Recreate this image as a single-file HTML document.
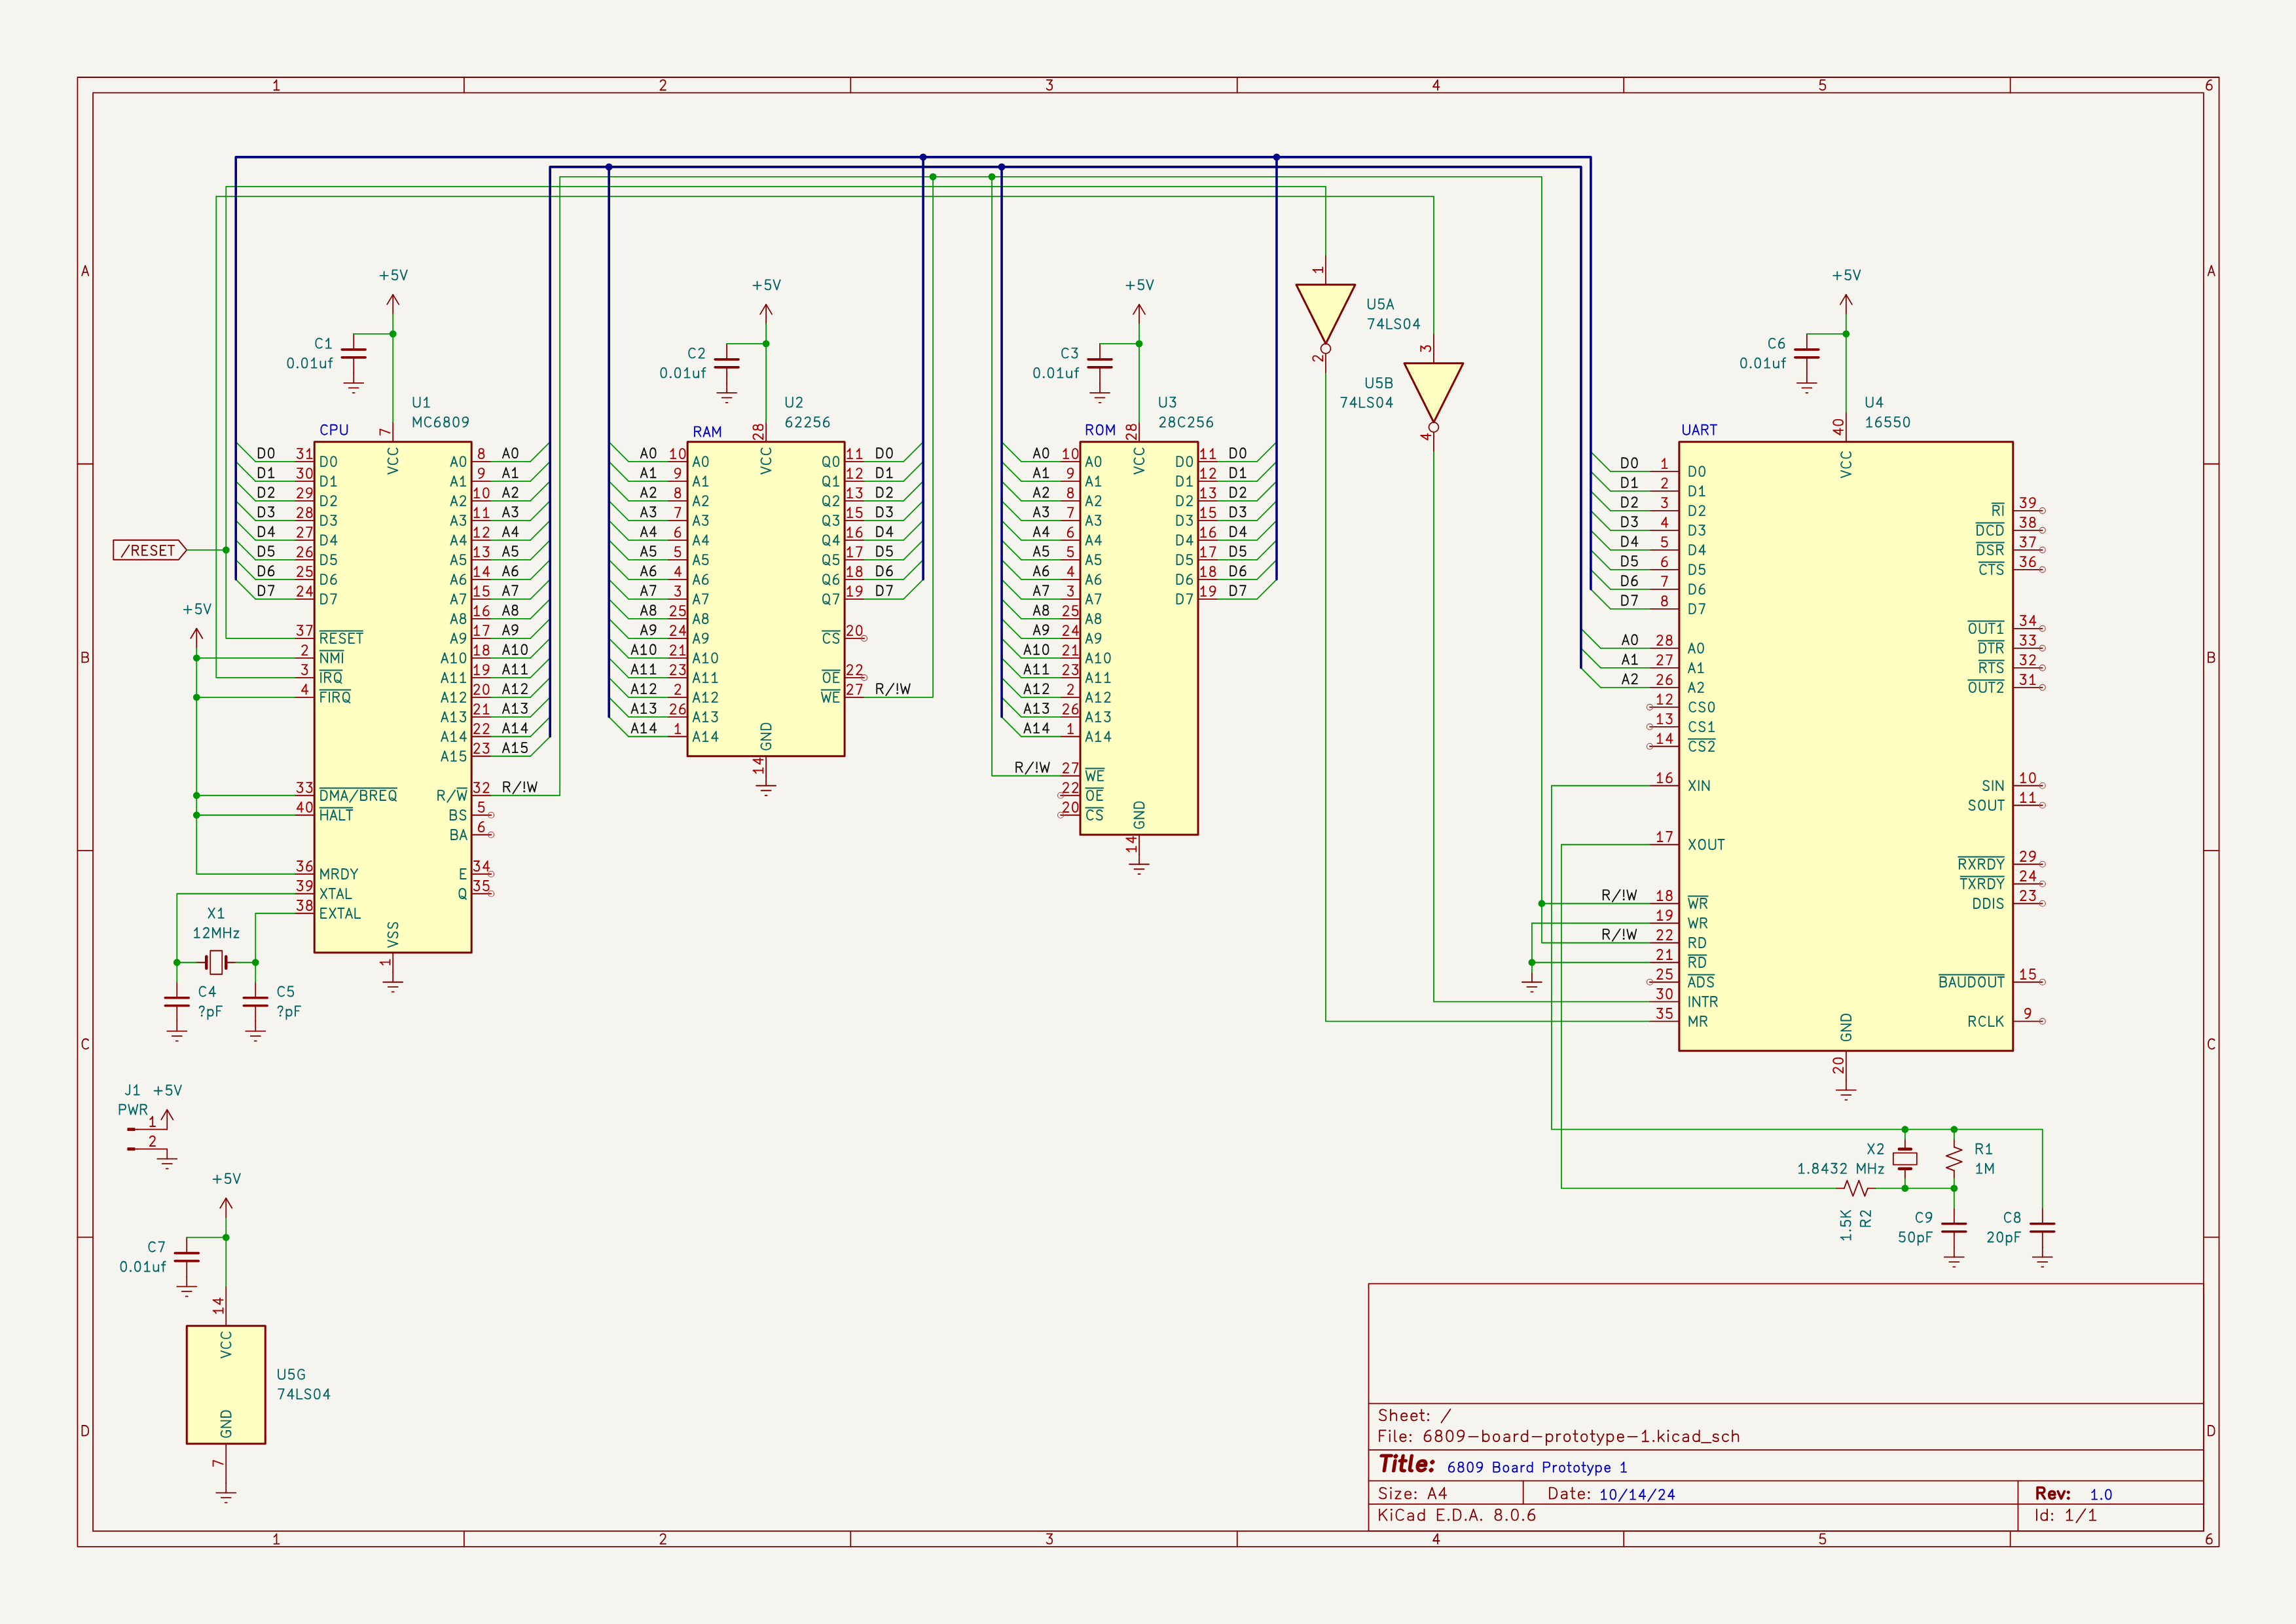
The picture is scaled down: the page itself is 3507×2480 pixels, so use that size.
<!DOCTYPE html><html><head><meta charset="utf-8"><title>6809 Board Prototype 1</title><style>html,body{margin:0;padding:0;background:#f5f4ef;font-family:"Liberation Sans",sans-serif}svg{display:block}</style></head><body><svg width="3507" height="2480" viewBox="0 0 3507 2480">
<defs><path id="g48" d="M10 0C6.3 0 4 3.8 4 10.5C4 17.2 6.3 21 10 21C13.7 21 16 17.2 16 10.5C16 3.8 13.7 0 10 0Z"/><path id="g49" d="M5 6.2Q8.3 4.6 10.5 0L10.5 21M5 21L16 21"/><path id="g50" d="M4.5 3.6Q6.2 0 10 0Q15.5 0 15.5 5Q15.5 7.8 13 10.8L4.3 21L16 21"/><path id="g51" d="M4.3 0L15.6 0L9.3 8.2C13.2 8.2 15.8 10.4 15.8 14.5C15.8 18.6 13.3 21 9.6 21C7 21 5.2 20 4 18"/><path id="g52" d="M13.3 0L3.8 14.6L17 14.6M13.3 0L13.3 21"/><path id="g53" d="M15 0L5.5 0L4.5 9.6Q6.8 8.2 9.8 8.2C13.6 8.2 16 10.6 16 14.5C16 18.5 13.5 21 9.8 21C7.2 21 5.3 20 4 18.2"/><path id="g54" d="M14.6 0C11 0 8 2 6 6C4.6 8.8 4 11.5 4 14.6C4 18.5 6.4 21 10 21C13.6 21 16 18.5 16 14.8C16 11.2 13.7 8.8 10.2 8.8C7.2 8.8 4.8 10.8 4 14"/><path id="g55" d="M4 0L16 0L8.3 21"/><path id="g56" d="M10 0C6.8 0 5 2 5 4.8C5 7.6 6.8 9.6 10 9.6C13.2 9.6 15 7.6 15 4.8C15 2 13.2 0 10 0ZM10 9.6C6.4 9.6 4 11.8 4 15.3C4 18.8 6.4 21 10 21C13.6 21 16 18.8 16 15.3C16 11.8 13.6 9.6 10 9.6Z"/><path id="g57" d="M5.4 21C9 21 12 19 14 15C15.4 12.2 16 9.5 16 6.4C16 2.5 13.6 0 10 0C6.4 0 4 2.5 4 6.2C4 9.8 6.3 12.2 9.8 12.2C12.8 12.2 15.2 10.2 16 7"/><path id="g65" d="M2 21L9 0L16 21M4.4 14.2L13.6 14.2"/><path id="g66" d="M4 0L4 21M4 0L11 0C14.5 0 16.5 1.8 16.5 5C16.5 8.2 14.5 10 11 10L4 10M11 10C15 10 17.3 12 17.3 15.5C17.3 19 15 21 11 21L4 21"/><path id="g67" d="M17.3 18.2C15.8 20 13.8 21 11.3 21C7 21 4 17 4 10.5C4 4 7 0 11.3 0C13.8 0 15.8 1 17.3 2.8"/><path id="g68" d="M4 0L4 21L9 21C14.3 21 17.3 17.2 17.3 10.5C17.3 3.8 14.3 0 9 0Z"/><path id="g69" d="M15.6 0L4 0L4 21L15.6 21M4 10L11.8 10"/><path id="g70" d="M15.2 0L4 0L4 21M4 10L11.6 10"/><path id="g71" d="M17.3 2.8C15.8 1 13.8 0 11.3 0C7 0 4 4 4 10.5C4 17 7 21 11.3 21C13.8 21 16 20 17.5 18.4L17.5 11.2L12.5 11.2"/><path id="g72" d="M4 0L4 21M18 0L18 21M4 10L18 10"/><path id="g73" d="M4 0L4 21"/><path id="g74" d="M11.5 0L11.5 15.5C11.5 19 9.8 21 7 21C5 21 3.6 20 2.8 18.4"/><path id="g75" d="M4 0L4 21M16.8 0L4 12.8M8.6 8.2L17.3 21"/><path id="g76" d="M4 0L4 21L15.2 21"/><path id="g77" d="M4 21L4 0L12 15L20 0L20 21"/><path id="g78" d="M4 21L4 0L18 21L18 0"/><path id="g79" d="M11 0C6.6 0 4 4 4 10.5C4 17 6.6 21 11 21C15.4 21 18 17 18 10.5C18 4 15.4 0 11 0Z"/><path id="g80" d="M4 21L4 0L11.3 0C15 0 17.2 2 17.2 5.5C17.2 9 15 11 11.3 11L4 11"/><path id="g81" d="M11 0C6.6 0 4 4 4 10.5C4 17 6.6 21 11 21C15.4 21 18 17 18 10.5C18 4 15.4 0 11 0ZM8.6 16.2C12.4 15.4 14.8 19.6 19 22.6"/><path id="g82" d="M4 21L4 0L11 0C14.6 0 16.8 1.8 16.8 5C16.8 8.2 14.6 10 11 10L4 10M10.6 10L17.3 21"/><path id="g83" d="M16 2.8C14.5 1 12.5 0 10 0C6.6 0 4.4 2 4.4 5C4.4 8 6.5 9.2 10 10.3C13.8 11.4 16 12.8 16 16C16 19 13.6 21 10 21C7.3 21 5.2 20 3.6 18.2"/><path id="g84" d="M8 0L8 21M1.4 0L14.6 0"/><path id="g85" d="M4 0L4 14.5C4 18.6 6.6 21 11 21C15.4 21 18 18.6 18 14.5L18 0"/><path id="g86" d="M1.8 0L9 21L16.2 0"/><path id="g87" d="M2.2 0L7 21L12 6L17 21L21.8 0"/><path id="g88" d="M3.6 0L16.4 21M16.4 0L3.6 21"/><path id="g89" d="M1.8 0L9 11L16.2 0M9 11L9 21"/><path id="g90" d="M4 0L16 0L4 21L16 21"/><path id="g97" d="M4.8 9C6 7.7 7.6 7 9.7 7C12.6 7 14.2 8.6 14.2 11.4L14.2 21M14.2 13.4L9.2 13.4C6 13.4 4.2 14.8 4.2 17.2C4.2 19.6 6 21 8.8 21C11.2 21 13 20 14.2 18.2"/><path id="g98" d="M4 0L4 21M4 10.4C5.4 8.2 7.4 7 9.8 7C13.2 7 15.4 9.6 15.4 14C15.4 18.4 13.2 21 9.8 21C7.4 21 5.4 19.8 4 17.6"/><path id="g99" d="M14.6 18.6C13.4 20.2 11.8 21 9.8 21C6.2 21 4 18.4 4 14C4 9.6 6.2 7 9.8 7C11.8 7 13.4 7.8 14.6 9.4"/><path id="g100" d="M15 0L15 21M15 10.4C13.6 8.2 11.6 7 9.2 7C5.8 7 3.6 9.6 3.6 14C3.6 18.4 5.8 21 9.2 21C11.6 21 13.6 19.8 15 17.6"/><path id="g101" d="M4 13.6L14.8 13.6C14.8 9.4 13 7 9.6 7C6.2 7 4 9.6 4 14C4 18.4 6.2 21 9.8 21C11.8 21 13.4 20.2 14.6 18.6"/><path id="g102" d="M10.6 0L9.6 0C7 0 5.8 1.4 5.8 4.2L5.8 21M2.2 7L10 7"/><path id="g104" d="M4 0L4 21M4 11C5.6 8.4 7.6 7 10 7C13.2 7 14.8 8.8 14.8 12.2L14.8 21"/><path id="g105" d="M4.5 7L4.5 21M4.5 0L3.7 0.8L4.5 1.6L5.3 0.8Z"/><path id="g107" d="M4 0L4 21M13.6 7L4 16.2M7.8 12.6L14.4 21"/><path id="g108" d="M4.4 0L4.4 17.5C4.4 20 5.4 21 7.4 21"/><path id="g111" d="M9.5 7C6 7 4 9.6 4 14C4 18.4 6 21 9.5 21C13 21 15 18.4 15 14C15 9.6 13 7 9.5 7Z"/><path id="g112" d="M4 7L4 28M4 10.4C5.4 8.2 7.4 7 9.8 7C13.2 7 15.4 9.6 15.4 14C15.4 18.4 13.2 21 9.8 21C7.4 21 5.4 19.8 4 17.6"/><path id="g114" d="M4 7L4 21M4 11.6C5.2 8.6 7.4 7 10.8 7"/><path id="g115" d="M13.4 9C12.2 7.7 10.6 7 8.6 7C5.8 7 4.2 8.3 4.2 10.4C4.2 12.4 5.6 13.4 8.6 13.9C11.8 14.4 13.6 15.4 13.6 17.5C13.6 19.7 11.8 21 8.8 21C6.6 21 4.8 20.2 3.6 18.8"/><path id="g116" d="M5 0L5 17.4C5 19.8 6.2 21 8.6 21L9.8 21M1.8 7L9.6 7"/><path id="g117" d="M4 7L4 15.8C4 19.2 5.6 21 8.8 21C11.2 21 13.2 19.6 14.8 17M14.8 7L14.8 21"/><path id="g118" d="M2 7L8 21L14 7"/><path id="g121" d="M2 7L8 21M14 7L8 21C6.6 25 5 27.4 2.4 28"/><path id="g122" d="M3.6 7L13.4 7L3.6 21L13.4 21"/><path id="g43" d="M13 3.6L13 20.4M4.6 12L21.4 12"/><path id="g45" d="M4.6 12L21.4 12"/><path id="g46" d="M5 19.2L4.1 20.1L5 21L5.9 20.1Z"/><path id="g58" d="M5 19.2L4.1 20.1L5 21L5.9 20.1ZM5 8L4.1 8.9L5 9.8L5.9 8.9Z"/><path id="g47" d="M19.3 -0.5L2.7 25"/><path id="g33" d="M5 0L5 14M5 19.2L4.1 20.1L5 21L5.9 20.1Z"/><path id="g63" d="M4 4C4.6 1.4 6.4 0 9 0C12 0 14 1.8 14 4.6C14 7 12.8 8.2 11 9.8C9.6 11 9 12.2 9 14.4M9 19.2L8.1 20.1L9 21L9.9 20.1Z"/><path id="g95" d="M0 23.4L17 23.4"/></defs>
<rect width="3507" height="2480" fill="#f5f4ef"/>
<g fill="none" stroke-linecap="round" stroke-linejoin="round" transform="matrix(0.99983 0 0 0.99987 0.32 -0.08)">
<g><path d="M118.11 118.11L3389.76 118.11L3389.76 2362.2L118.11 2362.2Z" stroke="#840000" stroke-width="1.8" fill="none"/>
<path d="M141.73 141.73L3366.13 141.73L3366.13 2338.58L141.73 2338.58Z" stroke="#840000" stroke-width="1.8" fill="none"/>
<path d="M708.66 118.11L708.66 141.73" stroke="#840000" stroke-width="1.8" fill="none"/>
<path d="M708.66 2338.58L708.66 2362.2" stroke="#840000" stroke-width="1.8" fill="none"/>
<path d="M1299.21 118.11L1299.21 141.73" stroke="#840000" stroke-width="1.8" fill="none"/>
<path d="M1299.21 2338.58L1299.21 2362.2" stroke="#840000" stroke-width="1.8" fill="none"/>
<path d="M1889.76 118.11L1889.76 141.73" stroke="#840000" stroke-width="1.8" fill="none"/>
<path d="M1889.76 2338.58L1889.76 2362.2" stroke="#840000" stroke-width="1.8" fill="none"/>
<path d="M2480.31 118.11L2480.31 141.73" stroke="#840000" stroke-width="1.8" fill="none"/>
<path d="M2480.31 2338.58L2480.31 2362.2" stroke="#840000" stroke-width="1.8" fill="none"/>
<path d="M3070.86 118.11L3070.86 141.73" stroke="#840000" stroke-width="1.8" fill="none"/>
<path d="M3070.86 2338.58L3070.86 2362.2" stroke="#840000" stroke-width="1.8" fill="none"/>
<path d="M118.11 708.66L141.73 708.66" stroke="#840000" stroke-width="1.8" fill="none"/>
<path d="M3366.13 708.66L3389.76 708.66" stroke="#840000" stroke-width="1.8" fill="none"/>
<path d="M118.11 1299.21L141.73 1299.21" stroke="#840000" stroke-width="1.8" fill="none"/>
<path d="M3366.13 1299.21L3389.76 1299.21" stroke="#840000" stroke-width="1.8" fill="none"/>
<path d="M118.11 1889.76L141.73 1889.76" stroke="#840000" stroke-width="1.8" fill="none"/>
<path d="M3366.13 1889.76L3389.76 1889.76" stroke="#840000" stroke-width="1.8" fill="none"/>
<g transform="translate(414.58 129.92) scale(0.7312) translate(0 -10.5)" stroke="#840000" stroke-width="2.4619"><use href="#g49" x="0"/></g>
<g transform="translate(414.58 2350.39) scale(0.7312) translate(0 -10.5)" stroke="#840000" stroke-width="2.4619"><use href="#g49" x="0"/></g>
<g transform="translate(1005.13 129.92) scale(0.7312) translate(0 -10.5)" stroke="#840000" stroke-width="2.4619"><use href="#g50" x="0"/></g>
<g transform="translate(1005.13 2350.39) scale(0.7312) translate(0 -10.5)" stroke="#840000" stroke-width="2.4619"><use href="#g50" x="0"/></g>
<g transform="translate(1595.68 129.92) scale(0.7312) translate(0 -10.5)" stroke="#840000" stroke-width="2.4619"><use href="#g51" x="0"/></g>
<g transform="translate(1595.68 2350.39) scale(0.7312) translate(0 -10.5)" stroke="#840000" stroke-width="2.4619"><use href="#g51" x="0"/></g>
<g transform="translate(2186.23 129.92) scale(0.7312) translate(0 -10.5)" stroke="#840000" stroke-width="2.4619"><use href="#g52" x="0"/></g>
<g transform="translate(2186.23 2350.39) scale(0.7312) translate(0 -10.5)" stroke="#840000" stroke-width="2.4619"><use href="#g52" x="0"/></g>
<g transform="translate(2776.78 129.92) scale(0.7312) translate(0 -10.5)" stroke="#840000" stroke-width="2.4619"><use href="#g53" x="0"/></g>
<g transform="translate(2776.78 2350.39) scale(0.7312) translate(0 -10.5)" stroke="#840000" stroke-width="2.4619"><use href="#g53" x="0"/></g>
<g transform="translate(3367.33 129.92) scale(0.7312) translate(0 -10.5)" stroke="#840000" stroke-width="2.4619"><use href="#g54" x="0"/></g>
<g transform="translate(3367.33 2350.39) scale(0.7312) translate(0 -10.5)" stroke="#840000" stroke-width="2.4619"><use href="#g54" x="0"/></g>
<g transform="translate(129.92 413.38) scale(0.7312) translate(0 -10.5)" stroke="#840000" stroke-width="2.4619"><use href="#g65" x="-9"/></g>
<g transform="translate(3377.95 413.38) scale(0.7312) translate(0 -10.5)" stroke="#840000" stroke-width="2.4619"><use href="#g65" x="-9"/></g>
<g transform="translate(129.92 1003.93) scale(0.7312) translate(0 -10.5)" stroke="#840000" stroke-width="2.4619"><use href="#g66" x="-10.5"/></g>
<g transform="translate(3377.95 1003.93) scale(0.7312) translate(0 -10.5)" stroke="#840000" stroke-width="2.4619"><use href="#g66" x="-10.5"/></g>
<g transform="translate(129.92 1594.48) scale(0.7312) translate(0 -10.5)" stroke="#840000" stroke-width="2.4619"><use href="#g67" x="-10.5"/></g>
<g transform="translate(3377.95 1594.48) scale(0.7312) translate(0 -10.5)" stroke="#840000" stroke-width="2.4619"><use href="#g67" x="-10.5"/></g>
<g transform="translate(129.92 2185.03) scale(0.7312) translate(0 -10.5)" stroke="#840000" stroke-width="2.4619"><use href="#g68" x="-10.5"/></g>
<g transform="translate(3377.95 2185.03) scale(0.7312) translate(0 -10.5)" stroke="#840000" stroke-width="2.4619"><use href="#g68" x="-10.5"/></g>
<path d="M2090.55 1960.63L3366.13 1960.63L3366.13 2338.58L2090.55 2338.58Z" stroke="#840000" stroke-width="1.8" fill="none"/>
<path d="M2090.55 2297.24L3366.13 2297.24" stroke="#840000" stroke-width="1.8" fill="none"/>
<path d="M2090.55 2261.81L3366.13 2261.81" stroke="#840000" stroke-width="1.8" fill="none"/>
<path d="M2090.55 2214.56L3366.13 2214.56" stroke="#840000" stroke-width="1.8" fill="none"/>
<path d="M2090.55 2143.7L3366.13 2143.7" stroke="#840000" stroke-width="1.8" fill="none"/>
<path d="M2326.77 2261.81L2326.77 2297.24" stroke="#840000" stroke-width="1.8" fill="none"/>
<path d="M3082.67 2261.81L3082.67 2338.58" stroke="#840000" stroke-width="1.8" fill="none"/>
<g transform="translate(2103.86 2161.21) scale(0.8437 0.8099) translate(0 -10.5)" stroke="#840000" stroke-width="2.2225"><use href="#g83" x="0"/><use href="#g104" x="20"/><use href="#g101" x="39"/><use href="#g101" x="57"/><use href="#g116" x="75"/><use href="#g58" x="87"/><use href="#g47" x="113"/></g>
<g transform="translate(2103.86 2193.1) scale(0.8437 0.8099) translate(0 -10.5)" stroke="#840000" stroke-width="2.2225"><use href="#g70" x="0"/><use href="#g105" x="18"/><use href="#g108" x="27"/><use href="#g101" x="37"/><use href="#g58" x="55"/><use href="#g54" x="81"/><use href="#g56" x="101"/><use href="#g48" x="121"/><use href="#g57" x="141"/><use href="#g45" x="161"/><use href="#g98" x="187"/><use href="#g111" x="206"/><use href="#g97" x="225"/><use href="#g114" x="244"/><use href="#g100" x="257"/><use href="#g45" x="276"/><use href="#g112" x="302"/><use href="#g114" x="321"/><use href="#g111" x="334"/><use href="#g116" x="353"/><use href="#g111" x="365"/><use href="#g116" x="384"/><use href="#g121" x="396"/><use href="#g112" x="412"/><use href="#g101" x="431"/><use href="#g45" x="449"/><use href="#g49" x="475"/><use href="#g46" x="495"/><use href="#g107" x="505"/><use href="#g105" x="522"/><use href="#g99" x="531"/><use href="#g97" x="549"/><use href="#g100" x="568"/><use href="#g95" x="587"/><use href="#g115" x="604"/><use href="#g99" x="621"/><use href="#g104" x="639"/></g>
<g transform="translate(2106.76 2234.82) scale(1.1566 1.0911) skewX(-8) translate(0 -10.5)" stroke="#840000" stroke-width="4.5825"><use href="#g84" x="0"/><use href="#g105" x="16"/><use href="#g116" x="25"/><use href="#g108" x="37"/><use href="#g101" x="47"/><use href="#g58" x="65"/></g>
<g transform="translate(2103.86 2280.5) scale(0.8437 0.8099) translate(0 -10.5)" stroke="#840000" stroke-width="2.2225"><use href="#g83" x="0"/><use href="#g105" x="20"/><use href="#g122" x="29"/><use href="#g101" x="46"/><use href="#g58" x="64"/><use href="#g65" x="90"/><use href="#g52" x="108"/></g>
<g transform="translate(2363.7 2280.5) scale(0.8437 0.8099) translate(0 -10.5)" stroke="#840000" stroke-width="2.2225"><use href="#g68" x="0"/><use href="#g97" x="21"/><use href="#g116" x="40"/><use href="#g101" x="52"/><use href="#g58" x="70"/></g>
<g transform="translate(2103.86 2313.57) scale(0.8437 0.8099) translate(0 -10.5)" stroke="#840000" stroke-width="2.2225"><use href="#g75" x="0"/><use href="#g105" x="21"/><use href="#g67" x="30"/><use href="#g97" x="51"/><use href="#g100" x="70"/><use href="#g69" x="105"/><use href="#g46" x="124"/><use href="#g68" x="134"/><use href="#g46" x="155"/><use href="#g65" x="165"/><use href="#g46" x="183"/><use href="#g56" x="209"/><use href="#g46" x="229"/><use href="#g48" x="239"/><use href="#g46" x="259"/><use href="#g54" x="269"/></g>
<g transform="translate(3108.89 2280.5) scale(0.8437 0.8099) translate(0 -10.5)" stroke="#840000" stroke-width="4.3215"><use href="#g82" x="0"/><use href="#g101" x="21"/><use href="#g118" x="39"/><use href="#g58" x="55"/></g>
<g transform="translate(3107.79 2313.57) scale(0.8437 0.8099) translate(0 -10.5)" stroke="#840000" stroke-width="2.2225"><use href="#g73" x="0"/><use href="#g100" x="8"/><use href="#g58" x="27"/><use href="#g49" x="53"/><use href="#g47" x="73"/><use href="#g49" x="95"/></g>
<g transform="translate(2210 2240.7) scale(0.7143) translate(0 -10.5)" stroke="#0000c2" stroke-width="2.625"><use href="#g54" x="0"/><use href="#g56" x="20"/><use href="#g48" x="40"/><use href="#g57" x="60"/><use href="#g66" x="96"/><use href="#g111" x="117"/><use href="#g97" x="136"/><use href="#g114" x="155"/><use href="#g100" x="168"/><use href="#g80" x="203"/><use href="#g114" x="224"/><use href="#g111" x="237"/><use href="#g116" x="256"/><use href="#g111" x="268"/><use href="#g116" x="287"/><use href="#g121" x="299"/><use href="#g112" x="315"/><use href="#g101" x="334"/><use href="#g49" x="368"/></g>
<g transform="translate(2442.5 2282.5) scale(0.7143) translate(0 -10.5)" stroke="#0000c2" stroke-width="2.625"><use href="#g49" x="0"/><use href="#g48" x="20"/><use href="#g47" x="40"/><use href="#g49" x="62"/><use href="#g52" x="82"/><use href="#g47" x="102"/><use href="#g50" x="124"/><use href="#g52" x="144"/></g>
<g transform="translate(3192 2282.5) scale(0.7143) translate(0 -10.5)" stroke="#0000c2" stroke-width="2.625"><use href="#g49" x="0"/><use href="#g46" x="20"/><use href="#g48" x="30"/></g></g>
<g><rect x="480" y="675" width="240" height="780" fill="#ffffc2" stroke="#840000" stroke-width="3" stroke-linejoin="round"/>
<rect x="1050" y="675" width="240" height="480" fill="#ffffc2" stroke="#840000" stroke-width="3" stroke-linejoin="round"/>
<rect x="1650" y="675" width="180" height="600" fill="#ffffc2" stroke="#840000" stroke-width="3" stroke-linejoin="round"/>
<path d="M1980 435L2070 435L2025 525Z" fill="#ffffc2" stroke="#840000" stroke-width="3"/>
<path d="M2145 555L2235 555L2190 645Z" fill="#ffffc2" stroke="#840000" stroke-width="3"/>
<rect x="2565" y="675" width="510" height="930" fill="#ffffc2" stroke="#840000" stroke-width="3" stroke-linejoin="round"/>
<rect x="285" y="2025" width="120" height="180" fill="#ffffc2" stroke="#840000" stroke-width="3" stroke-linejoin="round"/></g>
<g><path d="M285 840L272.4 825L173 825L173 855L272.4 855Z" stroke="#840000" stroke-width="1.9" fill="none"/>
<path d="M600 1485L600 1500" stroke="#840000" stroke-width="1.8" fill="none"/>
<path d="M585 1500L615 1500" stroke="#840000" stroke-width="1.8" fill="none"/>
<path d="M592.5 1507.5L607.5 1507.5" stroke="#840000" stroke-width="1.8" fill="none"/>
<path d="M598.5 1515L601.5 1515" stroke="#840000" stroke-width="1.8" fill="none"/>
<path d="M600 480L600 450" stroke="#840000" stroke-width="1.8" fill="none"/>
<path d="M591 465L600 450L609 465" stroke="#840000" stroke-width="1.8" fill="none"/>
<path d="M540 510L540 534" stroke="#840000" stroke-width="1.8" fill="none"/>
<path d="M540 546L540 570" stroke="#840000" stroke-width="1.8" fill="none"/>
<path d="M522 534L558 534" stroke="#840000" stroke-width="3.6" fill="none"/>
<path d="M522 546L558 546" stroke="#840000" stroke-width="3.6" fill="none"/>
<path d="M540 570L540 585" stroke="#840000" stroke-width="1.8" fill="none"/>
<path d="M525 585L555 585" stroke="#840000" stroke-width="1.8" fill="none"/>
<path d="M532.5 592.5L547.5 592.5" stroke="#840000" stroke-width="1.8" fill="none"/>
<path d="M538.5 600L541.5 600" stroke="#840000" stroke-width="1.8" fill="none"/>
<path d="M300 990L300 960" stroke="#840000" stroke-width="1.8" fill="none"/>
<path d="M291 975L300 960L309 975" stroke="#840000" stroke-width="1.8" fill="none"/>
<path d="M300 1470L315 1470" stroke="#840000" stroke-width="1.8" fill="none"/>
<path d="M360 1470L345 1470" stroke="#840000" stroke-width="1.8" fill="none"/>
<path d="M315 1461L315 1479" stroke="#840000" stroke-width="4.5" fill="none"/>
<path d="M345 1461L345 1479" stroke="#840000" stroke-width="4.5" fill="none"/>
<path d="M321 1452L339 1452L339 1488L321 1488Z" stroke="#840000" stroke-width="1.8" fill="none"/>
<path d="M270 1500L270 1524" stroke="#840000" stroke-width="1.8" fill="none"/>
<path d="M270 1536L270 1560" stroke="#840000" stroke-width="1.8" fill="none"/>
<path d="M252 1524L288 1524" stroke="#840000" stroke-width="3.6" fill="none"/>
<path d="M252 1536L288 1536" stroke="#840000" stroke-width="3.6" fill="none"/>
<path d="M270 1560L270 1575" stroke="#840000" stroke-width="1.8" fill="none"/>
<path d="M255 1575L285 1575" stroke="#840000" stroke-width="1.8" fill="none"/>
<path d="M262.5 1582.5L277.5 1582.5" stroke="#840000" stroke-width="1.8" fill="none"/>
<path d="M268.5 1590L271.5 1590" stroke="#840000" stroke-width="1.8" fill="none"/>
<path d="M390 1500L390 1524" stroke="#840000" stroke-width="1.8" fill="none"/>
<path d="M390 1536L390 1560" stroke="#840000" stroke-width="1.8" fill="none"/>
<path d="M372 1524L408 1524" stroke="#840000" stroke-width="3.6" fill="none"/>
<path d="M372 1536L408 1536" stroke="#840000" stroke-width="3.6" fill="none"/>
<path d="M390 1560L390 1575" stroke="#840000" stroke-width="1.8" fill="none"/>
<path d="M375 1575L405 1575" stroke="#840000" stroke-width="1.8" fill="none"/>
<path d="M382.5 1582.5L397.5 1582.5" stroke="#840000" stroke-width="1.8" fill="none"/>
<path d="M388.5 1590L391.5 1590" stroke="#840000" stroke-width="1.8" fill="none"/>
<path d="M1170 1185L1170 1200" stroke="#840000" stroke-width="1.8" fill="none"/>
<path d="M1155 1200L1185 1200" stroke="#840000" stroke-width="1.8" fill="none"/>
<path d="M1162.5 1207.5L1177.5 1207.5" stroke="#840000" stroke-width="1.8" fill="none"/>
<path d="M1168.5 1215L1171.5 1215" stroke="#840000" stroke-width="1.8" fill="none"/>
<path d="M1170 495L1170 465" stroke="#840000" stroke-width="1.8" fill="none"/>
<path d="M1161 480L1170 465L1179 480" stroke="#840000" stroke-width="1.8" fill="none"/>
<path d="M1110 525L1110 549" stroke="#840000" stroke-width="1.8" fill="none"/>
<path d="M1110 561L1110 585" stroke="#840000" stroke-width="1.8" fill="none"/>
<path d="M1092 549L1128 549" stroke="#840000" stroke-width="3.6" fill="none"/>
<path d="M1092 561L1128 561" stroke="#840000" stroke-width="3.6" fill="none"/>
<path d="M1110 585L1110 600" stroke="#840000" stroke-width="1.8" fill="none"/>
<path d="M1095 600L1125 600" stroke="#840000" stroke-width="1.8" fill="none"/>
<path d="M1102.5 607.5L1117.5 607.5" stroke="#840000" stroke-width="1.8" fill="none"/>
<path d="M1108.5 615L1111.5 615" stroke="#840000" stroke-width="1.8" fill="none"/>
<path d="M1740 1305L1740 1320" stroke="#840000" stroke-width="1.8" fill="none"/>
<path d="M1725 1320L1755 1320" stroke="#840000" stroke-width="1.8" fill="none"/>
<path d="M1732.5 1327.5L1747.5 1327.5" stroke="#840000" stroke-width="1.8" fill="none"/>
<path d="M1738.5 1335L1741.5 1335" stroke="#840000" stroke-width="1.8" fill="none"/>
<path d="M1740 495L1740 465" stroke="#840000" stroke-width="1.8" fill="none"/>
<path d="M1731 480L1740 465L1749 480" stroke="#840000" stroke-width="1.8" fill="none"/>
<path d="M1680 525L1680 549" stroke="#840000" stroke-width="1.8" fill="none"/>
<path d="M1680 561L1680 585" stroke="#840000" stroke-width="1.8" fill="none"/>
<path d="M1662 549L1698 549" stroke="#840000" stroke-width="3.6" fill="none"/>
<path d="M1662 561L1698 561" stroke="#840000" stroke-width="3.6" fill="none"/>
<path d="M1680 585L1680 600" stroke="#840000" stroke-width="1.8" fill="none"/>
<path d="M1665 600L1695 600" stroke="#840000" stroke-width="1.8" fill="none"/>
<path d="M1672.5 607.5L1687.5 607.5" stroke="#840000" stroke-width="1.8" fill="none"/>
<path d="M1678.5 615L1681.5 615" stroke="#840000" stroke-width="1.8" fill="none"/>
<path d="M2820 1650L2820 1665" stroke="#840000" stroke-width="1.8" fill="none"/>
<path d="M2805 1665L2835 1665" stroke="#840000" stroke-width="1.8" fill="none"/>
<path d="M2812.5 1672.5L2827.5 1672.5" stroke="#840000" stroke-width="1.8" fill="none"/>
<path d="M2818.5 1680L2821.5 1680" stroke="#840000" stroke-width="1.8" fill="none"/>
<path d="M2820 480L2820 450" stroke="#840000" stroke-width="1.8" fill="none"/>
<path d="M2811 465L2820 450L2829 465" stroke="#840000" stroke-width="1.8" fill="none"/>
<path d="M2760 510L2760 534" stroke="#840000" stroke-width="1.8" fill="none"/>
<path d="M2760 546L2760 570" stroke="#840000" stroke-width="1.8" fill="none"/>
<path d="M2742 534L2778 534" stroke="#840000" stroke-width="3.6" fill="none"/>
<path d="M2742 546L2778 546" stroke="#840000" stroke-width="3.6" fill="none"/>
<path d="M2760 570L2760 585" stroke="#840000" stroke-width="1.8" fill="none"/>
<path d="M2745 585L2775 585" stroke="#840000" stroke-width="1.8" fill="none"/>
<path d="M2752.5 592.5L2767.5 592.5" stroke="#840000" stroke-width="1.8" fill="none"/>
<path d="M2758.5 600L2761.5 600" stroke="#840000" stroke-width="1.8" fill="none"/>
<path d="M2340 1485L2340 1500" stroke="#840000" stroke-width="1.8" fill="none"/>
<path d="M2325 1500L2355 1500" stroke="#840000" stroke-width="1.8" fill="none"/>
<path d="M2332.5 1507.5L2347.5 1507.5" stroke="#840000" stroke-width="1.8" fill="none"/>
<path d="M2338.5 1515L2341.5 1515" stroke="#840000" stroke-width="1.8" fill="none"/>
<path d="M2910 1740L2910 1755" stroke="#840000" stroke-width="1.8" fill="none"/>
<path d="M2910 1800L2910 1785" stroke="#840000" stroke-width="1.8" fill="none"/>
<path d="M2901 1755L2919 1755" stroke="#840000" stroke-width="4.5" fill="none"/>
<path d="M2901 1785L2919 1785" stroke="#840000" stroke-width="4.5" fill="none"/>
<path d="M2892 1761L2928 1761L2928 1779L2892 1779Z" stroke="#840000" stroke-width="1.8" fill="none"/>
<path d="M2985 1740L2985 1752" stroke="#840000" stroke-width="1.8" fill="none"/>
<path d="M2985 1800L2985 1788" stroke="#840000" stroke-width="1.8" fill="none"/>
<path d="M2985 1752L2997 1756.5L2985 1761L2973 1765.5L2985 1770L2997 1774.5L2985 1779L2973 1783.5L2985 1788" stroke="#840000" stroke-width="1.8" fill="none"/>
<path d="M2805 1815L2817 1815" stroke="#840000" stroke-width="1.8" fill="none"/>
<path d="M2865 1815L2853 1815" stroke="#840000" stroke-width="1.8" fill="none"/>
<path d="M2817 1815L2821.5 1803L2826 1815L2830.5 1827L2835 1815L2839.5 1803L2844 1815L2848.5 1827L2853 1815" stroke="#840000" stroke-width="1.8" fill="none"/>
<path d="M2985 1845L2985 1869" stroke="#840000" stroke-width="1.8" fill="none"/>
<path d="M2985 1881L2985 1905" stroke="#840000" stroke-width="1.8" fill="none"/>
<path d="M2967 1869L3003 1869" stroke="#840000" stroke-width="3.6" fill="none"/>
<path d="M2967 1881L3003 1881" stroke="#840000" stroke-width="3.6" fill="none"/>
<path d="M2985 1905L2985 1920" stroke="#840000" stroke-width="1.8" fill="none"/>
<path d="M2970 1920L3000 1920" stroke="#840000" stroke-width="1.8" fill="none"/>
<path d="M2977.5 1927.5L2992.5 1927.5" stroke="#840000" stroke-width="1.8" fill="none"/>
<path d="M2983.5 1935L2986.5 1935" stroke="#840000" stroke-width="1.8" fill="none"/>
<path d="M3120 1845L3120 1869" stroke="#840000" stroke-width="1.8" fill="none"/>
<path d="M3120 1881L3120 1905" stroke="#840000" stroke-width="1.8" fill="none"/>
<path d="M3102 1869L3138 1869" stroke="#840000" stroke-width="3.6" fill="none"/>
<path d="M3102 1881L3138 1881" stroke="#840000" stroke-width="3.6" fill="none"/>
<path d="M3120 1905L3120 1920" stroke="#840000" stroke-width="1.8" fill="none"/>
<path d="M3105 1920L3135 1920" stroke="#840000" stroke-width="1.8" fill="none"/>
<path d="M3112.5 1927.5L3127.5 1927.5" stroke="#840000" stroke-width="1.8" fill="none"/>
<path d="M3118.5 1935L3121.5 1935" stroke="#840000" stroke-width="1.8" fill="none"/>
<rect x="195" y="1723.5" width="10.2" height="3" fill="#840000" stroke="#840000" stroke-width="1.8"/>
<rect x="195" y="1753.5" width="10.2" height="3" fill="#840000" stroke="#840000" stroke-width="1.8"/>
<path d="M205 1725L210 1725" stroke="#840000" stroke-width="1.8" fill="none"/>
<path d="M205 1755L210 1755" stroke="#840000" stroke-width="1.8" fill="none"/>
<path d="M255 1725L255 1695" stroke="#840000" stroke-width="1.8" fill="none"/>
<path d="M246 1710L255 1695L264 1710" stroke="#840000" stroke-width="1.8" fill="none"/>
<path d="M255 1755L255 1770" stroke="#840000" stroke-width="1.8" fill="none"/>
<path d="M240 1770L270 1770" stroke="#840000" stroke-width="1.8" fill="none"/>
<path d="M247.5 1777.5L262.5 1777.5" stroke="#840000" stroke-width="1.8" fill="none"/>
<path d="M253.5 1785L256.5 1785" stroke="#840000" stroke-width="1.8" fill="none"/>
<path d="M345 2265L345 2280" stroke="#840000" stroke-width="1.8" fill="none"/>
<path d="M330 2280L360 2280" stroke="#840000" stroke-width="1.8" fill="none"/>
<path d="M337.5 2287.5L352.5 2287.5" stroke="#840000" stroke-width="1.8" fill="none"/>
<path d="M343.5 2295L346.5 2295" stroke="#840000" stroke-width="1.8" fill="none"/>
<path d="M345 1860L345 1830" stroke="#840000" stroke-width="1.8" fill="none"/>
<path d="M336 1845L345 1830L354 1845" stroke="#840000" stroke-width="1.8" fill="none"/>
<path d="M285 1890L285 1914" stroke="#840000" stroke-width="1.8" fill="none"/>
<path d="M285 1926L285 1950" stroke="#840000" stroke-width="1.8" fill="none"/>
<path d="M267 1914L303 1914" stroke="#840000" stroke-width="3.6" fill="none"/>
<path d="M267 1926L303 1926" stroke="#840000" stroke-width="3.6" fill="none"/>
<path d="M285 1950L285 1965" stroke="#840000" stroke-width="1.8" fill="none"/>
<path d="M270 1965L300 1965" stroke="#840000" stroke-width="1.8" fill="none"/>
<path d="M277.5 1972.5L292.5 1972.5" stroke="#840000" stroke-width="1.8" fill="none"/>
<path d="M283.5 1980L286.5 1980" stroke="#840000" stroke-width="1.8" fill="none"/></g>
<g><path d="M450 705L480 705" stroke="#840000" stroke-width="1.8" fill="none"/>
<path d="M450 735L480 735" stroke="#840000" stroke-width="1.8" fill="none"/>
<path d="M450 765L480 765" stroke="#840000" stroke-width="1.8" fill="none"/>
<path d="M450 795L480 795" stroke="#840000" stroke-width="1.8" fill="none"/>
<path d="M450 825L480 825" stroke="#840000" stroke-width="1.8" fill="none"/>
<path d="M450 855L480 855" stroke="#840000" stroke-width="1.8" fill="none"/>
<path d="M450 885L480 885" stroke="#840000" stroke-width="1.8" fill="none"/>
<path d="M450 915L480 915" stroke="#840000" stroke-width="1.8" fill="none"/>
<path d="M450 975L480 975" stroke="#840000" stroke-width="1.8" fill="none"/>
<path d="M450 1005L480 1005" stroke="#840000" stroke-width="1.8" fill="none"/>
<path d="M450 1035L480 1035" stroke="#840000" stroke-width="1.8" fill="none"/>
<path d="M450 1065L480 1065" stroke="#840000" stroke-width="1.8" fill="none"/>
<path d="M450 1215L480 1215" stroke="#840000" stroke-width="1.8" fill="none"/>
<path d="M450 1245L480 1245" stroke="#840000" stroke-width="1.8" fill="none"/>
<path d="M450 1335L480 1335" stroke="#840000" stroke-width="1.8" fill="none"/>
<path d="M450 1365L480 1365" stroke="#840000" stroke-width="1.8" fill="none"/>
<path d="M450 1395L480 1395" stroke="#840000" stroke-width="1.8" fill="none"/>
<path d="M750 705L720 705" stroke="#840000" stroke-width="1.8" fill="none"/>
<path d="M750 735L720 735" stroke="#840000" stroke-width="1.8" fill="none"/>
<path d="M750 765L720 765" stroke="#840000" stroke-width="1.8" fill="none"/>
<path d="M750 795L720 795" stroke="#840000" stroke-width="1.8" fill="none"/>
<path d="M750 825L720 825" stroke="#840000" stroke-width="1.8" fill="none"/>
<path d="M750 855L720 855" stroke="#840000" stroke-width="1.8" fill="none"/>
<path d="M750 885L720 885" stroke="#840000" stroke-width="1.8" fill="none"/>
<path d="M750 915L720 915" stroke="#840000" stroke-width="1.8" fill="none"/>
<path d="M750 945L720 945" stroke="#840000" stroke-width="1.8" fill="none"/>
<path d="M750 975L720 975" stroke="#840000" stroke-width="1.8" fill="none"/>
<path d="M750 1005L720 1005" stroke="#840000" stroke-width="1.8" fill="none"/>
<path d="M750 1035L720 1035" stroke="#840000" stroke-width="1.8" fill="none"/>
<path d="M750 1065L720 1065" stroke="#840000" stroke-width="1.8" fill="none"/>
<path d="M750 1095L720 1095" stroke="#840000" stroke-width="1.8" fill="none"/>
<path d="M750 1125L720 1125" stroke="#840000" stroke-width="1.8" fill="none"/>
<path d="M750 1155L720 1155" stroke="#840000" stroke-width="1.8" fill="none"/>
<path d="M750 1215L720 1215" stroke="#840000" stroke-width="1.8" fill="none"/>
<path d="M750 1245L720 1245" stroke="#840000" stroke-width="1.8" fill="none"/>
<path d="M750 1275L720 1275" stroke="#840000" stroke-width="1.8" fill="none"/>
<path d="M750 1335L720 1335" stroke="#840000" stroke-width="1.8" fill="none"/>
<path d="M750 1365L720 1365" stroke="#840000" stroke-width="1.8" fill="none"/>
<path d="M600 645L600 675" stroke="#840000" stroke-width="1.8" fill="none"/>
<path d="M600 1485L600 1455" stroke="#840000" stroke-width="1.8" fill="none"/>
<path d="M1020 705L1050 705" stroke="#840000" stroke-width="1.8" fill="none"/>
<path d="M1020 735L1050 735" stroke="#840000" stroke-width="1.8" fill="none"/>
<path d="M1020 765L1050 765" stroke="#840000" stroke-width="1.8" fill="none"/>
<path d="M1020 795L1050 795" stroke="#840000" stroke-width="1.8" fill="none"/>
<path d="M1020 825L1050 825" stroke="#840000" stroke-width="1.8" fill="none"/>
<path d="M1020 855L1050 855" stroke="#840000" stroke-width="1.8" fill="none"/>
<path d="M1020 885L1050 885" stroke="#840000" stroke-width="1.8" fill="none"/>
<path d="M1020 915L1050 915" stroke="#840000" stroke-width="1.8" fill="none"/>
<path d="M1020 945L1050 945" stroke="#840000" stroke-width="1.8" fill="none"/>
<path d="M1020 975L1050 975" stroke="#840000" stroke-width="1.8" fill="none"/>
<path d="M1020 1005L1050 1005" stroke="#840000" stroke-width="1.8" fill="none"/>
<path d="M1020 1035L1050 1035" stroke="#840000" stroke-width="1.8" fill="none"/>
<path d="M1020 1065L1050 1065" stroke="#840000" stroke-width="1.8" fill="none"/>
<path d="M1020 1095L1050 1095" stroke="#840000" stroke-width="1.8" fill="none"/>
<path d="M1020 1125L1050 1125" stroke="#840000" stroke-width="1.8" fill="none"/>
<path d="M1320 705L1290 705" stroke="#840000" stroke-width="1.8" fill="none"/>
<path d="M1320 735L1290 735" stroke="#840000" stroke-width="1.8" fill="none"/>
<path d="M1320 765L1290 765" stroke="#840000" stroke-width="1.8" fill="none"/>
<path d="M1320 795L1290 795" stroke="#840000" stroke-width="1.8" fill="none"/>
<path d="M1320 825L1290 825" stroke="#840000" stroke-width="1.8" fill="none"/>
<path d="M1320 855L1290 855" stroke="#840000" stroke-width="1.8" fill="none"/>
<path d="M1320 885L1290 885" stroke="#840000" stroke-width="1.8" fill="none"/>
<path d="M1320 915L1290 915" stroke="#840000" stroke-width="1.8" fill="none"/>
<path d="M1320 975L1290 975" stroke="#840000" stroke-width="1.8" fill="none"/>
<path d="M1320 1035L1290 1035" stroke="#840000" stroke-width="1.8" fill="none"/>
<path d="M1320 1065L1290 1065" stroke="#840000" stroke-width="1.8" fill="none"/>
<path d="M1170 645L1170 675" stroke="#840000" stroke-width="1.8" fill="none"/>
<path d="M1170 1185L1170 1155" stroke="#840000" stroke-width="1.8" fill="none"/>
<path d="M1620 705L1650 705" stroke="#840000" stroke-width="1.8" fill="none"/>
<path d="M1620 735L1650 735" stroke="#840000" stroke-width="1.8" fill="none"/>
<path d="M1620 765L1650 765" stroke="#840000" stroke-width="1.8" fill="none"/>
<path d="M1620 795L1650 795" stroke="#840000" stroke-width="1.8" fill="none"/>
<path d="M1620 825L1650 825" stroke="#840000" stroke-width="1.8" fill="none"/>
<path d="M1620 855L1650 855" stroke="#840000" stroke-width="1.8" fill="none"/>
<path d="M1620 885L1650 885" stroke="#840000" stroke-width="1.8" fill="none"/>
<path d="M1620 915L1650 915" stroke="#840000" stroke-width="1.8" fill="none"/>
<path d="M1620 945L1650 945" stroke="#840000" stroke-width="1.8" fill="none"/>
<path d="M1620 975L1650 975" stroke="#840000" stroke-width="1.8" fill="none"/>
<path d="M1620 1005L1650 1005" stroke="#840000" stroke-width="1.8" fill="none"/>
<path d="M1620 1035L1650 1035" stroke="#840000" stroke-width="1.8" fill="none"/>
<path d="M1620 1065L1650 1065" stroke="#840000" stroke-width="1.8" fill="none"/>
<path d="M1620 1095L1650 1095" stroke="#840000" stroke-width="1.8" fill="none"/>
<path d="M1620 1125L1650 1125" stroke="#840000" stroke-width="1.8" fill="none"/>
<path d="M1860 705L1830 705" stroke="#840000" stroke-width="1.8" fill="none"/>
<path d="M1860 735L1830 735" stroke="#840000" stroke-width="1.8" fill="none"/>
<path d="M1860 765L1830 765" stroke="#840000" stroke-width="1.8" fill="none"/>
<path d="M1860 795L1830 795" stroke="#840000" stroke-width="1.8" fill="none"/>
<path d="M1860 825L1830 825" stroke="#840000" stroke-width="1.8" fill="none"/>
<path d="M1860 855L1830 855" stroke="#840000" stroke-width="1.8" fill="none"/>
<path d="M1860 885L1830 885" stroke="#840000" stroke-width="1.8" fill="none"/>
<path d="M1860 915L1830 915" stroke="#840000" stroke-width="1.8" fill="none"/>
<path d="M1620 1185L1650 1185" stroke="#840000" stroke-width="1.8" fill="none"/>
<path d="M1620 1215L1650 1215" stroke="#840000" stroke-width="1.8" fill="none"/>
<path d="M1620 1245L1650 1245" stroke="#840000" stroke-width="1.8" fill="none"/>
<path d="M1740 645L1740 675" stroke="#840000" stroke-width="1.8" fill="none"/>
<path d="M1740 1305L1740 1275" stroke="#840000" stroke-width="1.8" fill="none"/>
<path d="M2025 390L2025 435" stroke="#840000" stroke-width="1.8" fill="none"/>
<circle cx="2025" cy="532.5" r="7.5" fill="none" stroke="#840000" stroke-width="1.8"/>
<path d="M2025 540L2025 570" stroke="#840000" stroke-width="1.8" fill="none"/>
<path d="M2190 510L2190 555" stroke="#840000" stroke-width="1.8" fill="none"/>
<circle cx="2190" cy="652.5" r="7.5" fill="none" stroke="#840000" stroke-width="1.8"/>
<path d="M2190 660L2190 690" stroke="#840000" stroke-width="1.8" fill="none"/>
<path d="M2520 720L2565 720" stroke="#840000" stroke-width="1.8" fill="none"/>
<path d="M2520 750L2565 750" stroke="#840000" stroke-width="1.8" fill="none"/>
<path d="M2520 780L2565 780" stroke="#840000" stroke-width="1.8" fill="none"/>
<path d="M2520 810L2565 810" stroke="#840000" stroke-width="1.8" fill="none"/>
<path d="M2520 840L2565 840" stroke="#840000" stroke-width="1.8" fill="none"/>
<path d="M2520 870L2565 870" stroke="#840000" stroke-width="1.8" fill="none"/>
<path d="M2520 900L2565 900" stroke="#840000" stroke-width="1.8" fill="none"/>
<path d="M2520 930L2565 930" stroke="#840000" stroke-width="1.8" fill="none"/>
<path d="M2520 990L2565 990" stroke="#840000" stroke-width="1.8" fill="none"/>
<path d="M2520 1020L2565 1020" stroke="#840000" stroke-width="1.8" fill="none"/>
<path d="M2520 1050L2565 1050" stroke="#840000" stroke-width="1.8" fill="none"/>
<path d="M2520 1080L2565 1080" stroke="#840000" stroke-width="1.8" fill="none"/>
<path d="M2520 1110L2565 1110" stroke="#840000" stroke-width="1.8" fill="none"/>
<path d="M2520 1140L2565 1140" stroke="#840000" stroke-width="1.8" fill="none"/>
<path d="M2520 1200L2565 1200" stroke="#840000" stroke-width="1.8" fill="none"/>
<path d="M2520 1290L2565 1290" stroke="#840000" stroke-width="1.8" fill="none"/>
<path d="M2520 1380L2565 1380" stroke="#840000" stroke-width="1.8" fill="none"/>
<path d="M2520 1410L2565 1410" stroke="#840000" stroke-width="1.8" fill="none"/>
<path d="M2520 1440L2565 1440" stroke="#840000" stroke-width="1.8" fill="none"/>
<path d="M2520 1470L2565 1470" stroke="#840000" stroke-width="1.8" fill="none"/>
<path d="M2520 1500L2565 1500" stroke="#840000" stroke-width="1.8" fill="none"/>
<path d="M2520 1530L2565 1530" stroke="#840000" stroke-width="1.8" fill="none"/>
<path d="M2520 1560L2565 1560" stroke="#840000" stroke-width="1.8" fill="none"/>
<path d="M3120 780L3075 780" stroke="#840000" stroke-width="1.8" fill="none"/>
<path d="M3120 810L3075 810" stroke="#840000" stroke-width="1.8" fill="none"/>
<path d="M3120 840L3075 840" stroke="#840000" stroke-width="1.8" fill="none"/>
<path d="M3120 870L3075 870" stroke="#840000" stroke-width="1.8" fill="none"/>
<path d="M3120 960L3075 960" stroke="#840000" stroke-width="1.8" fill="none"/>
<path d="M3120 990L3075 990" stroke="#840000" stroke-width="1.8" fill="none"/>
<path d="M3120 1020L3075 1020" stroke="#840000" stroke-width="1.8" fill="none"/>
<path d="M3120 1050L3075 1050" stroke="#840000" stroke-width="1.8" fill="none"/>
<path d="M3120 1200L3075 1200" stroke="#840000" stroke-width="1.8" fill="none"/>
<path d="M3120 1230L3075 1230" stroke="#840000" stroke-width="1.8" fill="none"/>
<path d="M3120 1320L3075 1320" stroke="#840000" stroke-width="1.8" fill="none"/>
<path d="M3120 1350L3075 1350" stroke="#840000" stroke-width="1.8" fill="none"/>
<path d="M3120 1380L3075 1380" stroke="#840000" stroke-width="1.8" fill="none"/>
<path d="M3120 1500L3075 1500" stroke="#840000" stroke-width="1.8" fill="none"/>
<path d="M3120 1560L3075 1560" stroke="#840000" stroke-width="1.8" fill="none"/>
<path d="M2820 630L2820 675" stroke="#840000" stroke-width="1.8" fill="none"/>
<path d="M2820 1650L2820 1605" stroke="#840000" stroke-width="1.8" fill="none"/>
<path d="M210 1725L255 1725" stroke="#840000" stroke-width="1.8" fill="none"/>
<path d="M210 1755L255 1755" stroke="#840000" stroke-width="1.8" fill="none"/>
<path d="M345 1965L345 2025" stroke="#840000" stroke-width="1.8" fill="none"/>
<path d="M345 2265L345 2205" stroke="#840000" stroke-width="1.8" fill="none"/></g>
<g><path d="M360 675L390 705" stroke="#009600" stroke-width="1.8" fill="none"/>
<path d="M390 705L450 705" stroke="#009600" stroke-width="1.8" fill="none"/>
<path d="M360 705L390 735" stroke="#009600" stroke-width="1.8" fill="none"/>
<path d="M390 735L450 735" stroke="#009600" stroke-width="1.8" fill="none"/>
<path d="M360 735L390 765" stroke="#009600" stroke-width="1.8" fill="none"/>
<path d="M390 765L450 765" stroke="#009600" stroke-width="1.8" fill="none"/>
<path d="M360 765L390 795" stroke="#009600" stroke-width="1.8" fill="none"/>
<path d="M390 795L450 795" stroke="#009600" stroke-width="1.8" fill="none"/>
<path d="M360 795L390 825" stroke="#009600" stroke-width="1.8" fill="none"/>
<path d="M390 825L450 825" stroke="#009600" stroke-width="1.8" fill="none"/>
<path d="M360 825L390 855" stroke="#009600" stroke-width="1.8" fill="none"/>
<path d="M390 855L450 855" stroke="#009600" stroke-width="1.8" fill="none"/>
<path d="M360 855L390 885" stroke="#009600" stroke-width="1.8" fill="none"/>
<path d="M390 885L450 885" stroke="#009600" stroke-width="1.8" fill="none"/>
<path d="M360 885L390 915" stroke="#009600" stroke-width="1.8" fill="none"/>
<path d="M390 915L450 915" stroke="#009600" stroke-width="1.8" fill="none"/>
<path d="M840 675L810 705" stroke="#009600" stroke-width="1.8" fill="none"/>
<path d="M810 705L750 705" stroke="#009600" stroke-width="1.8" fill="none"/>
<path d="M840 705L810 735" stroke="#009600" stroke-width="1.8" fill="none"/>
<path d="M810 735L750 735" stroke="#009600" stroke-width="1.8" fill="none"/>
<path d="M840 735L810 765" stroke="#009600" stroke-width="1.8" fill="none"/>
<path d="M810 765L750 765" stroke="#009600" stroke-width="1.8" fill="none"/>
<path d="M840 765L810 795" stroke="#009600" stroke-width="1.8" fill="none"/>
<path d="M810 795L750 795" stroke="#009600" stroke-width="1.8" fill="none"/>
<path d="M840 795L810 825" stroke="#009600" stroke-width="1.8" fill="none"/>
<path d="M810 825L750 825" stroke="#009600" stroke-width="1.8" fill="none"/>
<path d="M840 825L810 855" stroke="#009600" stroke-width="1.8" fill="none"/>
<path d="M810 855L750 855" stroke="#009600" stroke-width="1.8" fill="none"/>
<path d="M840 855L810 885" stroke="#009600" stroke-width="1.8" fill="none"/>
<path d="M810 885L750 885" stroke="#009600" stroke-width="1.8" fill="none"/>
<path d="M840 885L810 915" stroke="#009600" stroke-width="1.8" fill="none"/>
<path d="M810 915L750 915" stroke="#009600" stroke-width="1.8" fill="none"/>
<path d="M840 915L810 945" stroke="#009600" stroke-width="1.8" fill="none"/>
<path d="M810 945L750 945" stroke="#009600" stroke-width="1.8" fill="none"/>
<path d="M840 945L810 975" stroke="#009600" stroke-width="1.8" fill="none"/>
<path d="M810 975L750 975" stroke="#009600" stroke-width="1.8" fill="none"/>
<path d="M840 975L810 1005" stroke="#009600" stroke-width="1.8" fill="none"/>
<path d="M810 1005L750 1005" stroke="#009600" stroke-width="1.8" fill="none"/>
<path d="M840 1005L810 1035" stroke="#009600" stroke-width="1.8" fill="none"/>
<path d="M810 1035L750 1035" stroke="#009600" stroke-width="1.8" fill="none"/>
<path d="M840 1035L810 1065" stroke="#009600" stroke-width="1.8" fill="none"/>
<path d="M810 1065L750 1065" stroke="#009600" stroke-width="1.8" fill="none"/>
<path d="M840 1065L810 1095" stroke="#009600" stroke-width="1.8" fill="none"/>
<path d="M810 1095L750 1095" stroke="#009600" stroke-width="1.8" fill="none"/>
<path d="M840 1095L810 1125" stroke="#009600" stroke-width="1.8" fill="none"/>
<path d="M810 1125L750 1125" stroke="#009600" stroke-width="1.8" fill="none"/>
<path d="M840 1125L810 1155" stroke="#009600" stroke-width="1.8" fill="none"/>
<path d="M810 1155L750 1155" stroke="#009600" stroke-width="1.8" fill="none"/>
<path d="M930 675L960 705" stroke="#009600" stroke-width="1.8" fill="none"/>
<path d="M960 705L1020 705" stroke="#009600" stroke-width="1.8" fill="none"/>
<path d="M930 705L960 735" stroke="#009600" stroke-width="1.8" fill="none"/>
<path d="M960 735L1020 735" stroke="#009600" stroke-width="1.8" fill="none"/>
<path d="M930 735L960 765" stroke="#009600" stroke-width="1.8" fill="none"/>
<path d="M960 765L1020 765" stroke="#009600" stroke-width="1.8" fill="none"/>
<path d="M930 765L960 795" stroke="#009600" stroke-width="1.8" fill="none"/>
<path d="M960 795L1020 795" stroke="#009600" stroke-width="1.8" fill="none"/>
<path d="M930 795L960 825" stroke="#009600" stroke-width="1.8" fill="none"/>
<path d="M960 825L1020 825" stroke="#009600" stroke-width="1.8" fill="none"/>
<path d="M930 825L960 855" stroke="#009600" stroke-width="1.8" fill="none"/>
<path d="M960 855L1020 855" stroke="#009600" stroke-width="1.8" fill="none"/>
<path d="M930 855L960 885" stroke="#009600" stroke-width="1.8" fill="none"/>
<path d="M960 885L1020 885" stroke="#009600" stroke-width="1.8" fill="none"/>
<path d="M930 885L960 915" stroke="#009600" stroke-width="1.8" fill="none"/>
<path d="M960 915L1020 915" stroke="#009600" stroke-width="1.8" fill="none"/>
<path d="M930 915L960 945" stroke="#009600" stroke-width="1.8" fill="none"/>
<path d="M960 945L1020 945" stroke="#009600" stroke-width="1.8" fill="none"/>
<path d="M930 945L960 975" stroke="#009600" stroke-width="1.8" fill="none"/>
<path d="M960 975L1020 975" stroke="#009600" stroke-width="1.8" fill="none"/>
<path d="M930 975L960 1005" stroke="#009600" stroke-width="1.8" fill="none"/>
<path d="M960 1005L1020 1005" stroke="#009600" stroke-width="1.8" fill="none"/>
<path d="M930 1005L960 1035" stroke="#009600" stroke-width="1.8" fill="none"/>
<path d="M960 1035L1020 1035" stroke="#009600" stroke-width="1.8" fill="none"/>
<path d="M930 1035L960 1065" stroke="#009600" stroke-width="1.8" fill="none"/>
<path d="M960 1065L1020 1065" stroke="#009600" stroke-width="1.8" fill="none"/>
<path d="M930 1065L960 1095" stroke="#009600" stroke-width="1.8" fill="none"/>
<path d="M960 1095L1020 1095" stroke="#009600" stroke-width="1.8" fill="none"/>
<path d="M930 1095L960 1125" stroke="#009600" stroke-width="1.8" fill="none"/>
<path d="M960 1125L1020 1125" stroke="#009600" stroke-width="1.8" fill="none"/>
<path d="M1410 675L1380 705" stroke="#009600" stroke-width="1.8" fill="none"/>
<path d="M1380 705L1320 705" stroke="#009600" stroke-width="1.8" fill="none"/>
<path d="M1410 705L1380 735" stroke="#009600" stroke-width="1.8" fill="none"/>
<path d="M1380 735L1320 735" stroke="#009600" stroke-width="1.8" fill="none"/>
<path d="M1410 735L1380 765" stroke="#009600" stroke-width="1.8" fill="none"/>
<path d="M1380 765L1320 765" stroke="#009600" stroke-width="1.8" fill="none"/>
<path d="M1410 765L1380 795" stroke="#009600" stroke-width="1.8" fill="none"/>
<path d="M1380 795L1320 795" stroke="#009600" stroke-width="1.8" fill="none"/>
<path d="M1410 795L1380 825" stroke="#009600" stroke-width="1.8" fill="none"/>
<path d="M1380 825L1320 825" stroke="#009600" stroke-width="1.8" fill="none"/>
<path d="M1410 825L1380 855" stroke="#009600" stroke-width="1.8" fill="none"/>
<path d="M1380 855L1320 855" stroke="#009600" stroke-width="1.8" fill="none"/>
<path d="M1410 855L1380 885" stroke="#009600" stroke-width="1.8" fill="none"/>
<path d="M1380 885L1320 885" stroke="#009600" stroke-width="1.8" fill="none"/>
<path d="M1410 885L1380 915" stroke="#009600" stroke-width="1.8" fill="none"/>
<path d="M1380 915L1320 915" stroke="#009600" stroke-width="1.8" fill="none"/>
<path d="M1530 675L1560 705" stroke="#009600" stroke-width="1.8" fill="none"/>
<path d="M1560 705L1620 705" stroke="#009600" stroke-width="1.8" fill="none"/>
<path d="M1530 705L1560 735" stroke="#009600" stroke-width="1.8" fill="none"/>
<path d="M1560 735L1620 735" stroke="#009600" stroke-width="1.8" fill="none"/>
<path d="M1530 735L1560 765" stroke="#009600" stroke-width="1.8" fill="none"/>
<path d="M1560 765L1620 765" stroke="#009600" stroke-width="1.8" fill="none"/>
<path d="M1530 765L1560 795" stroke="#009600" stroke-width="1.8" fill="none"/>
<path d="M1560 795L1620 795" stroke="#009600" stroke-width="1.8" fill="none"/>
<path d="M1530 795L1560 825" stroke="#009600" stroke-width="1.8" fill="none"/>
<path d="M1560 825L1620 825" stroke="#009600" stroke-width="1.8" fill="none"/>
<path d="M1530 825L1560 855" stroke="#009600" stroke-width="1.8" fill="none"/>
<path d="M1560 855L1620 855" stroke="#009600" stroke-width="1.8" fill="none"/>
<path d="M1530 855L1560 885" stroke="#009600" stroke-width="1.8" fill="none"/>
<path d="M1560 885L1620 885" stroke="#009600" stroke-width="1.8" fill="none"/>
<path d="M1530 885L1560 915" stroke="#009600" stroke-width="1.8" fill="none"/>
<path d="M1560 915L1620 915" stroke="#009600" stroke-width="1.8" fill="none"/>
<path d="M1530 915L1560 945" stroke="#009600" stroke-width="1.8" fill="none"/>
<path d="M1560 945L1620 945" stroke="#009600" stroke-width="1.8" fill="none"/>
<path d="M1530 945L1560 975" stroke="#009600" stroke-width="1.8" fill="none"/>
<path d="M1560 975L1620 975" stroke="#009600" stroke-width="1.8" fill="none"/>
<path d="M1530 975L1560 1005" stroke="#009600" stroke-width="1.8" fill="none"/>
<path d="M1560 1005L1620 1005" stroke="#009600" stroke-width="1.8" fill="none"/>
<path d="M1530 1005L1560 1035" stroke="#009600" stroke-width="1.8" fill="none"/>
<path d="M1560 1035L1620 1035" stroke="#009600" stroke-width="1.8" fill="none"/>
<path d="M1530 1035L1560 1065" stroke="#009600" stroke-width="1.8" fill="none"/>
<path d="M1560 1065L1620 1065" stroke="#009600" stroke-width="1.8" fill="none"/>
<path d="M1530 1065L1560 1095" stroke="#009600" stroke-width="1.8" fill="none"/>
<path d="M1560 1095L1620 1095" stroke="#009600" stroke-width="1.8" fill="none"/>
<path d="M1530 1095L1560 1125" stroke="#009600" stroke-width="1.8" fill="none"/>
<path d="M1560 1125L1620 1125" stroke="#009600" stroke-width="1.8" fill="none"/>
<path d="M1950 675L1920 705" stroke="#009600" stroke-width="1.8" fill="none"/>
<path d="M1920 705L1860 705" stroke="#009600" stroke-width="1.8" fill="none"/>
<path d="M1950 705L1920 735" stroke="#009600" stroke-width="1.8" fill="none"/>
<path d="M1920 735L1860 735" stroke="#009600" stroke-width="1.8" fill="none"/>
<path d="M1950 735L1920 765" stroke="#009600" stroke-width="1.8" fill="none"/>
<path d="M1920 765L1860 765" stroke="#009600" stroke-width="1.8" fill="none"/>
<path d="M1950 765L1920 795" stroke="#009600" stroke-width="1.8" fill="none"/>
<path d="M1920 795L1860 795" stroke="#009600" stroke-width="1.8" fill="none"/>
<path d="M1950 795L1920 825" stroke="#009600" stroke-width="1.8" fill="none"/>
<path d="M1920 825L1860 825" stroke="#009600" stroke-width="1.8" fill="none"/>
<path d="M1950 825L1920 855" stroke="#009600" stroke-width="1.8" fill="none"/>
<path d="M1920 855L1860 855" stroke="#009600" stroke-width="1.8" fill="none"/>
<path d="M1950 855L1920 885" stroke="#009600" stroke-width="1.8" fill="none"/>
<path d="M1920 885L1860 885" stroke="#009600" stroke-width="1.8" fill="none"/>
<path d="M1950 885L1920 915" stroke="#009600" stroke-width="1.8" fill="none"/>
<path d="M1920 915L1860 915" stroke="#009600" stroke-width="1.8" fill="none"/>
<path d="M2430 690L2460 720" stroke="#009600" stroke-width="1.8" fill="none"/>
<path d="M2460 720L2520 720" stroke="#009600" stroke-width="1.8" fill="none"/>
<path d="M2430 720L2460 750" stroke="#009600" stroke-width="1.8" fill="none"/>
<path d="M2460 750L2520 750" stroke="#009600" stroke-width="1.8" fill="none"/>
<path d="M2430 750L2460 780" stroke="#009600" stroke-width="1.8" fill="none"/>
<path d="M2460 780L2520 780" stroke="#009600" stroke-width="1.8" fill="none"/>
<path d="M2430 780L2460 810" stroke="#009600" stroke-width="1.8" fill="none"/>
<path d="M2460 810L2520 810" stroke="#009600" stroke-width="1.8" fill="none"/>
<path d="M2430 810L2460 840" stroke="#009600" stroke-width="1.8" fill="none"/>
<path d="M2460 840L2520 840" stroke="#009600" stroke-width="1.8" fill="none"/>
<path d="M2430 840L2460 870" stroke="#009600" stroke-width="1.8" fill="none"/>
<path d="M2460 870L2520 870" stroke="#009600" stroke-width="1.8" fill="none"/>
<path d="M2430 870L2460 900" stroke="#009600" stroke-width="1.8" fill="none"/>
<path d="M2460 900L2520 900" stroke="#009600" stroke-width="1.8" fill="none"/>
<path d="M2430 900L2460 930" stroke="#009600" stroke-width="1.8" fill="none"/>
<path d="M2460 930L2520 930" stroke="#009600" stroke-width="1.8" fill="none"/>
<path d="M2415 960L2445 990" stroke="#009600" stroke-width="1.8" fill="none"/>
<path d="M2445 990L2520 990" stroke="#009600" stroke-width="1.8" fill="none"/>
<path d="M2415 990L2445 1020" stroke="#009600" stroke-width="1.8" fill="none"/>
<path d="M2445 1020L2520 1020" stroke="#009600" stroke-width="1.8" fill="none"/>
<path d="M2415 1020L2445 1050" stroke="#009600" stroke-width="1.8" fill="none"/>
<path d="M2445 1050L2520 1050" stroke="#009600" stroke-width="1.8" fill="none"/>
<path d="M750 1215L855 1215L855 270L2355 270L2355 1440L2520 1440" stroke="#009600" stroke-width="1.8" fill="none"/>
<path d="M2355 1380L2520 1380" stroke="#009600" stroke-width="1.8" fill="none"/>
<path d="M1320 1065L1425 1065L1425 270" stroke="#009600" stroke-width="1.8" fill="none"/>
<path d="M1620 1185L1515 1185L1515 270" stroke="#009600" stroke-width="1.8" fill="none"/>
<path d="M285 840L345 840" stroke="#009600" stroke-width="1.8" fill="none"/>
<path d="M450 975L345 975L345 285L2025 285L2025 390" stroke="#009600" stroke-width="1.8" fill="none"/>
<path d="M450 1035L330 1035L330 300L2190 300L2190 510" stroke="#009600" stroke-width="1.8" fill="none"/>
<path d="M2025 570L2025 1560L2520 1560" stroke="#009600" stroke-width="1.8" fill="none"/>
<path d="M2190 690L2190 1530L2520 1530" stroke="#009600" stroke-width="1.8" fill="none"/>
<path d="M300 990L300 1335L450 1335" stroke="#009600" stroke-width="1.8" fill="none"/>
<path d="M300 1005L450 1005" stroke="#009600" stroke-width="1.8" fill="none"/>
<path d="M300 1065L450 1065" stroke="#009600" stroke-width="1.8" fill="none"/>
<path d="M300 1215L450 1215" stroke="#009600" stroke-width="1.8" fill="none"/>
<path d="M300 1245L450 1245" stroke="#009600" stroke-width="1.8" fill="none"/>
<path d="M450 1365L270 1365L270 1500" stroke="#009600" stroke-width="1.8" fill="none"/>
<path d="M270 1470L300 1470" stroke="#009600" stroke-width="1.8" fill="none"/>
<path d="M360 1470L390 1470" stroke="#009600" stroke-width="1.8" fill="none"/>
<path d="M450 1395L390 1395L390 1500" stroke="#009600" stroke-width="1.8" fill="none"/>
<path d="M600 480L600 645" stroke="#009600" stroke-width="1.8" fill="none"/>
<path d="M540 510L600 510" stroke="#009600" stroke-width="1.8" fill="none"/>
<path d="M1170 495L1170 645" stroke="#009600" stroke-width="1.8" fill="none"/>
<path d="M1110 525L1170 525" stroke="#009600" stroke-width="1.8" fill="none"/>
<path d="M1740 495L1740 645" stroke="#009600" stroke-width="1.8" fill="none"/>
<path d="M1680 525L1740 525" stroke="#009600" stroke-width="1.8" fill="none"/>
<path d="M2820 480L2820 630" stroke="#009600" stroke-width="1.8" fill="none"/>
<path d="M2760 510L2820 510" stroke="#009600" stroke-width="1.8" fill="none"/>
<path d="M345 1860L345 1965" stroke="#009600" stroke-width="1.8" fill="none"/>
<path d="M285 1890L345 1890" stroke="#009600" stroke-width="1.8" fill="none"/>
<path d="M2520 1200L2370 1200L2370 1725L3120 1725L3120 1845" stroke="#009600" stroke-width="1.8" fill="none"/>
<path d="M2910 1725L2910 1740" stroke="#009600" stroke-width="1.8" fill="none"/>
<path d="M2985 1725L2985 1740" stroke="#009600" stroke-width="1.8" fill="none"/>
<path d="M2520 1290L2385 1290L2385 1815L2805 1815" stroke="#009600" stroke-width="1.8" fill="none"/>
<path d="M2865 1815L2985 1815" stroke="#009600" stroke-width="1.8" fill="none"/>
<path d="M2910 1800L2910 1815" stroke="#009600" stroke-width="1.8" fill="none"/>
<path d="M2985 1800L2985 1845" stroke="#009600" stroke-width="1.8" fill="none"/>
<path d="M2520 1410L2340 1410L2340 1485" stroke="#009600" stroke-width="1.8" fill="none"/>
<path d="M2340 1470L2520 1470" stroke="#009600" stroke-width="1.8" fill="none"/></g>
<g><path d="M360 885L360 240L2430 240L2430 900" stroke="#000084" stroke-width="3.6" fill="none"/>
<path d="M1410 240L1410 885" stroke="#000084" stroke-width="3.6" fill="none"/>
<path d="M1950 240L1950 885" stroke="#000084" stroke-width="3.6" fill="none"/>
<path d="M840 1125L840 255L2415 255L2415 1020" stroke="#000084" stroke-width="3.6" fill="none"/>
<path d="M930 255L930 1095" stroke="#000084" stroke-width="3.6" fill="none"/>
<path d="M1530 255L1530 1095" stroke="#000084" stroke-width="3.6" fill="none"/></g>
<g><circle cx="1410" cy="240" r="5.4" fill="#000084"/>
<circle cx="1950" cy="240" r="5.4" fill="#000084"/>
<circle cx="930" cy="255" r="5.4" fill="#000084"/>
<circle cx="1530" cy="255" r="5.4" fill="#000084"/>
<circle cx="2355" cy="1380" r="5.4" fill="#009600"/>
<circle cx="1425" cy="270" r="5.4" fill="#009600"/>
<circle cx="1515" cy="270" r="5.4" fill="#009600"/>
<circle cx="345" cy="840" r="5.4" fill="#009600"/>
<circle cx="300" cy="1005" r="5.4" fill="#009600"/>
<circle cx="300" cy="1065" r="5.4" fill="#009600"/>
<circle cx="300" cy="1215" r="5.4" fill="#009600"/>
<circle cx="300" cy="1245" r="5.4" fill="#009600"/>
<circle cx="270" cy="1470" r="5.4" fill="#009600"/>
<circle cx="390" cy="1470" r="5.4" fill="#009600"/>
<circle cx="600" cy="510" r="5.4" fill="#009600"/>
<circle cx="1170" cy="525" r="5.4" fill="#009600"/>
<circle cx="1740" cy="525" r="5.4" fill="#009600"/>
<circle cx="2820" cy="510" r="5.4" fill="#009600"/>
<circle cx="345" cy="1890" r="5.4" fill="#009600"/>
<circle cx="2910" cy="1725" r="5.4" fill="#009600"/>
<circle cx="2985" cy="1725" r="5.4" fill="#009600"/>
<circle cx="2910" cy="1815" r="5.4" fill="#009600"/>
<circle cx="2985" cy="1815" r="5.4" fill="#009600"/>
<circle cx="2340" cy="1470" r="5.4" fill="#009600"/></g>
<g><circle cx="750" cy="1245" r="4.5" fill="none" stroke="#ad4545" stroke-width="1.2"/>
<circle cx="750" cy="1275" r="4.5" fill="none" stroke="#ad4545" stroke-width="1.2"/>
<circle cx="750" cy="1335" r="4.5" fill="none" stroke="#ad4545" stroke-width="1.2"/>
<circle cx="750" cy="1365" r="4.5" fill="none" stroke="#ad4545" stroke-width="1.2"/>
<circle cx="1320" cy="975" r="4.5" fill="none" stroke="#ad4545" stroke-width="1.2"/>
<circle cx="1320" cy="1035" r="4.5" fill="none" stroke="#ad4545" stroke-width="1.2"/>
<circle cx="1620" cy="1215" r="4.5" fill="none" stroke="#ad4545" stroke-width="1.2"/>
<circle cx="1620" cy="1245" r="4.5" fill="none" stroke="#ad4545" stroke-width="1.2"/>
<circle cx="2520" cy="1080" r="4.5" fill="none" stroke="#ad4545" stroke-width="1.2"/>
<circle cx="2520" cy="1110" r="4.5" fill="none" stroke="#ad4545" stroke-width="1.2"/>
<circle cx="2520" cy="1140" r="4.5" fill="none" stroke="#ad4545" stroke-width="1.2"/>
<circle cx="2520" cy="1500" r="4.5" fill="none" stroke="#ad4545" stroke-width="1.2"/>
<circle cx="3120" cy="780" r="4.5" fill="none" stroke="#ad4545" stroke-width="1.2"/>
<circle cx="3120" cy="810" r="4.5" fill="none" stroke="#ad4545" stroke-width="1.2"/>
<circle cx="3120" cy="840" r="4.5" fill="none" stroke="#ad4545" stroke-width="1.2"/>
<circle cx="3120" cy="870" r="4.5" fill="none" stroke="#ad4545" stroke-width="1.2"/>
<circle cx="3120" cy="960" r="4.5" fill="none" stroke="#ad4545" stroke-width="1.2"/>
<circle cx="3120" cy="990" r="4.5" fill="none" stroke="#ad4545" stroke-width="1.2"/>
<circle cx="3120" cy="1020" r="4.5" fill="none" stroke="#ad4545" stroke-width="1.2"/>
<circle cx="3120" cy="1050" r="4.5" fill="none" stroke="#ad4545" stroke-width="1.2"/>
<circle cx="3120" cy="1200" r="4.5" fill="none" stroke="#ad4545" stroke-width="1.2"/>
<circle cx="3120" cy="1230" r="4.5" fill="none" stroke="#ad4545" stroke-width="1.2"/>
<circle cx="3120" cy="1320" r="4.5" fill="none" stroke="#ad4545" stroke-width="1.2"/>
<circle cx="3120" cy="1350" r="4.5" fill="none" stroke="#ad4545" stroke-width="1.2"/>
<circle cx="3120" cy="1380" r="4.5" fill="none" stroke="#ad4545" stroke-width="1.2"/>
<circle cx="3120" cy="1500" r="4.5" fill="none" stroke="#ad4545" stroke-width="1.2"/>
<circle cx="3120" cy="1560" r="4.5" fill="none" stroke="#ad4545" stroke-width="1.2"/></g>
<g><g transform="translate(421 699.4) scale(0.7143) translate(0 -21)" stroke="#0f0f0f" stroke-width="2.625"><use href="#g68" x="-41"/><use href="#g48" x="-20"/></g>
<g transform="translate(421 729.4) scale(0.7143) translate(0 -21)" stroke="#0f0f0f" stroke-width="2.625"><use href="#g68" x="-41"/><use href="#g49" x="-20"/></g>
<g transform="translate(421 759.4) scale(0.7143) translate(0 -21)" stroke="#0f0f0f" stroke-width="2.625"><use href="#g68" x="-41"/><use href="#g50" x="-20"/></g>
<g transform="translate(421 789.4) scale(0.7143) translate(0 -21)" stroke="#0f0f0f" stroke-width="2.625"><use href="#g68" x="-41"/><use href="#g51" x="-20"/></g>
<g transform="translate(421 819.4) scale(0.7143) translate(0 -21)" stroke="#0f0f0f" stroke-width="2.625"><use href="#g68" x="-41"/><use href="#g52" x="-20"/></g>
<g transform="translate(421 849.4) scale(0.7143) translate(0 -21)" stroke="#0f0f0f" stroke-width="2.625"><use href="#g68" x="-41"/><use href="#g53" x="-20"/></g>
<g transform="translate(421 879.4) scale(0.7143) translate(0 -21)" stroke="#0f0f0f" stroke-width="2.625"><use href="#g68" x="-41"/><use href="#g54" x="-20"/></g>
<g transform="translate(421 909.4) scale(0.7143) translate(0 -21)" stroke="#0f0f0f" stroke-width="2.625"><use href="#g68" x="-41"/><use href="#g55" x="-20"/></g>
<g transform="translate(766.3 699.4) scale(0.7143) translate(0 -21)" stroke="#0f0f0f" stroke-width="2.625"><use href="#g65" x="0"/><use href="#g48" x="18"/></g>
<g transform="translate(766.3 729.4) scale(0.7143) translate(0 -21)" stroke="#0f0f0f" stroke-width="2.625"><use href="#g65" x="0"/><use href="#g49" x="18"/></g>
<g transform="translate(766.3 759.4) scale(0.7143) translate(0 -21)" stroke="#0f0f0f" stroke-width="2.625"><use href="#g65" x="0"/><use href="#g50" x="18"/></g>
<g transform="translate(766.3 789.4) scale(0.7143) translate(0 -21)" stroke="#0f0f0f" stroke-width="2.625"><use href="#g65" x="0"/><use href="#g51" x="18"/></g>
<g transform="translate(766.3 819.4) scale(0.7143) translate(0 -21)" stroke="#0f0f0f" stroke-width="2.625"><use href="#g65" x="0"/><use href="#g52" x="18"/></g>
<g transform="translate(766.3 849.4) scale(0.7143) translate(0 -21)" stroke="#0f0f0f" stroke-width="2.625"><use href="#g65" x="0"/><use href="#g53" x="18"/></g>
<g transform="translate(766.3 879.4) scale(0.7143) translate(0 -21)" stroke="#0f0f0f" stroke-width="2.625"><use href="#g65" x="0"/><use href="#g54" x="18"/></g>
<g transform="translate(766.3 909.4) scale(0.7143) translate(0 -21)" stroke="#0f0f0f" stroke-width="2.625"><use href="#g65" x="0"/><use href="#g55" x="18"/></g>
<g transform="translate(766.3 939.4) scale(0.7143) translate(0 -21)" stroke="#0f0f0f" stroke-width="2.625"><use href="#g65" x="0"/><use href="#g56" x="18"/></g>
<g transform="translate(766.3 969.4) scale(0.7143) translate(0 -21)" stroke="#0f0f0f" stroke-width="2.625"><use href="#g65" x="0"/><use href="#g57" x="18"/></g>
<g transform="translate(766.3 999.4) scale(0.7143) translate(0 -21)" stroke="#0f0f0f" stroke-width="2.625"><use href="#g65" x="0"/><use href="#g49" x="18"/><use href="#g48" x="38"/></g>
<g transform="translate(766.3 1029.4) scale(0.7143) translate(0 -21)" stroke="#0f0f0f" stroke-width="2.625"><use href="#g65" x="0"/><use href="#g49" x="18"/><use href="#g49" x="38"/></g>
<g transform="translate(766.3 1059.4) scale(0.7143) translate(0 -21)" stroke="#0f0f0f" stroke-width="2.625"><use href="#g65" x="0"/><use href="#g49" x="18"/><use href="#g50" x="38"/></g>
<g transform="translate(766.3 1089.4) scale(0.7143) translate(0 -21)" stroke="#0f0f0f" stroke-width="2.625"><use href="#g65" x="0"/><use href="#g49" x="18"/><use href="#g51" x="38"/></g>
<g transform="translate(766.3 1119.4) scale(0.7143) translate(0 -21)" stroke="#0f0f0f" stroke-width="2.625"><use href="#g65" x="0"/><use href="#g49" x="18"/><use href="#g52" x="38"/></g>
<g transform="translate(766.3 1149.4) scale(0.7143) translate(0 -21)" stroke="#0f0f0f" stroke-width="2.625"><use href="#g65" x="0"/><use href="#g49" x="18"/><use href="#g53" x="38"/></g>
<g transform="translate(1004.3 699.4) scale(0.7143) translate(0 -21)" stroke="#0f0f0f" stroke-width="2.625"><use href="#g65" x="-38"/><use href="#g48" x="-20"/></g>
<g transform="translate(1004.3 729.4) scale(0.7143) translate(0 -21)" stroke="#0f0f0f" stroke-width="2.625"><use href="#g65" x="-38"/><use href="#g49" x="-20"/></g>
<g transform="translate(1004.3 759.4) scale(0.7143) translate(0 -21)" stroke="#0f0f0f" stroke-width="2.625"><use href="#g65" x="-38"/><use href="#g50" x="-20"/></g>
<g transform="translate(1004.3 789.4) scale(0.7143) translate(0 -21)" stroke="#0f0f0f" stroke-width="2.625"><use href="#g65" x="-38"/><use href="#g51" x="-20"/></g>
<g transform="translate(1004.3 819.4) scale(0.7143) translate(0 -21)" stroke="#0f0f0f" stroke-width="2.625"><use href="#g65" x="-38"/><use href="#g52" x="-20"/></g>
<g transform="translate(1004.3 849.4) scale(0.7143) translate(0 -21)" stroke="#0f0f0f" stroke-width="2.625"><use href="#g65" x="-38"/><use href="#g53" x="-20"/></g>
<g transform="translate(1004.3 879.4) scale(0.7143) translate(0 -21)" stroke="#0f0f0f" stroke-width="2.625"><use href="#g65" x="-38"/><use href="#g54" x="-20"/></g>
<g transform="translate(1004.3 909.4) scale(0.7143) translate(0 -21)" stroke="#0f0f0f" stroke-width="2.625"><use href="#g65" x="-38"/><use href="#g55" x="-20"/></g>
<g transform="translate(1004.3 939.4) scale(0.7143) translate(0 -21)" stroke="#0f0f0f" stroke-width="2.625"><use href="#g65" x="-38"/><use href="#g56" x="-20"/></g>
<g transform="translate(1004.3 969.4) scale(0.7143) translate(0 -21)" stroke="#0f0f0f" stroke-width="2.625"><use href="#g65" x="-38"/><use href="#g57" x="-20"/></g>
<g transform="translate(1004.3 999.4) scale(0.7143) translate(0 -21)" stroke="#0f0f0f" stroke-width="2.625"><use href="#g65" x="-58"/><use href="#g49" x="-40"/><use href="#g48" x="-20"/></g>
<g transform="translate(1004.3 1029.4) scale(0.7143) translate(0 -21)" stroke="#0f0f0f" stroke-width="2.625"><use href="#g65" x="-58"/><use href="#g49" x="-40"/><use href="#g49" x="-20"/></g>
<g transform="translate(1004.3 1059.4) scale(0.7143) translate(0 -21)" stroke="#0f0f0f" stroke-width="2.625"><use href="#g65" x="-58"/><use href="#g49" x="-40"/><use href="#g50" x="-20"/></g>
<g transform="translate(1004.3 1089.4) scale(0.7143) translate(0 -21)" stroke="#0f0f0f" stroke-width="2.625"><use href="#g65" x="-58"/><use href="#g49" x="-40"/><use href="#g51" x="-20"/></g>
<g transform="translate(1004.3 1119.4) scale(0.7143) translate(0 -21)" stroke="#0f0f0f" stroke-width="2.625"><use href="#g65" x="-58"/><use href="#g49" x="-40"/><use href="#g52" x="-20"/></g>
<g transform="translate(1336.3 699.4) scale(0.7143) translate(0 -21)" stroke="#0f0f0f" stroke-width="2.625"><use href="#g68" x="0"/><use href="#g48" x="21"/></g>
<g transform="translate(1336.3 729.4) scale(0.7143) translate(0 -21)" stroke="#0f0f0f" stroke-width="2.625"><use href="#g68" x="0"/><use href="#g49" x="21"/></g>
<g transform="translate(1336.3 759.4) scale(0.7143) translate(0 -21)" stroke="#0f0f0f" stroke-width="2.625"><use href="#g68" x="0"/><use href="#g50" x="21"/></g>
<g transform="translate(1336.3 789.4) scale(0.7143) translate(0 -21)" stroke="#0f0f0f" stroke-width="2.625"><use href="#g68" x="0"/><use href="#g51" x="21"/></g>
<g transform="translate(1336.3 819.4) scale(0.7143) translate(0 -21)" stroke="#0f0f0f" stroke-width="2.625"><use href="#g68" x="0"/><use href="#g52" x="21"/></g>
<g transform="translate(1336.3 849.4) scale(0.7143) translate(0 -21)" stroke="#0f0f0f" stroke-width="2.625"><use href="#g68" x="0"/><use href="#g53" x="21"/></g>
<g transform="translate(1336.3 879.4) scale(0.7143) translate(0 -21)" stroke="#0f0f0f" stroke-width="2.625"><use href="#g68" x="0"/><use href="#g54" x="21"/></g>
<g transform="translate(1336.3 909.4) scale(0.7143) translate(0 -21)" stroke="#0f0f0f" stroke-width="2.625"><use href="#g68" x="0"/><use href="#g55" x="21"/></g>
<g transform="translate(1604.3 699.4) scale(0.7143) translate(0 -21)" stroke="#0f0f0f" stroke-width="2.625"><use href="#g65" x="-38"/><use href="#g48" x="-20"/></g>
<g transform="translate(1604.3 729.4) scale(0.7143) translate(0 -21)" stroke="#0f0f0f" stroke-width="2.625"><use href="#g65" x="-38"/><use href="#g49" x="-20"/></g>
<g transform="translate(1604.3 759.4) scale(0.7143) translate(0 -21)" stroke="#0f0f0f" stroke-width="2.625"><use href="#g65" x="-38"/><use href="#g50" x="-20"/></g>
<g transform="translate(1604.3 789.4) scale(0.7143) translate(0 -21)" stroke="#0f0f0f" stroke-width="2.625"><use href="#g65" x="-38"/><use href="#g51" x="-20"/></g>
<g transform="translate(1604.3 819.4) scale(0.7143) translate(0 -21)" stroke="#0f0f0f" stroke-width="2.625"><use href="#g65" x="-38"/><use href="#g52" x="-20"/></g>
<g transform="translate(1604.3 849.4) scale(0.7143) translate(0 -21)" stroke="#0f0f0f" stroke-width="2.625"><use href="#g65" x="-38"/><use href="#g53" x="-20"/></g>
<g transform="translate(1604.3 879.4) scale(0.7143) translate(0 -21)" stroke="#0f0f0f" stroke-width="2.625"><use href="#g65" x="-38"/><use href="#g54" x="-20"/></g>
<g transform="translate(1604.3 909.4) scale(0.7143) translate(0 -21)" stroke="#0f0f0f" stroke-width="2.625"><use href="#g65" x="-38"/><use href="#g55" x="-20"/></g>
<g transform="translate(1604.3 939.4) scale(0.7143) translate(0 -21)" stroke="#0f0f0f" stroke-width="2.625"><use href="#g65" x="-38"/><use href="#g56" x="-20"/></g>
<g transform="translate(1604.3 969.4) scale(0.7143) translate(0 -21)" stroke="#0f0f0f" stroke-width="2.625"><use href="#g65" x="-38"/><use href="#g57" x="-20"/></g>
<g transform="translate(1604.3 999.4) scale(0.7143) translate(0 -21)" stroke="#0f0f0f" stroke-width="2.625"><use href="#g65" x="-58"/><use href="#g49" x="-40"/><use href="#g48" x="-20"/></g>
<g transform="translate(1604.3 1029.4) scale(0.7143) translate(0 -21)" stroke="#0f0f0f" stroke-width="2.625"><use href="#g65" x="-58"/><use href="#g49" x="-40"/><use href="#g49" x="-20"/></g>
<g transform="translate(1604.3 1059.4) scale(0.7143) translate(0 -21)" stroke="#0f0f0f" stroke-width="2.625"><use href="#g65" x="-58"/><use href="#g49" x="-40"/><use href="#g50" x="-20"/></g>
<g transform="translate(1604.3 1089.4) scale(0.7143) translate(0 -21)" stroke="#0f0f0f" stroke-width="2.625"><use href="#g65" x="-58"/><use href="#g49" x="-40"/><use href="#g51" x="-20"/></g>
<g transform="translate(1604.3 1119.4) scale(0.7143) translate(0 -21)" stroke="#0f0f0f" stroke-width="2.625"><use href="#g65" x="-58"/><use href="#g49" x="-40"/><use href="#g52" x="-20"/></g>
<g transform="translate(1876.3 699.4) scale(0.7143) translate(0 -21)" stroke="#0f0f0f" stroke-width="2.625"><use href="#g68" x="0"/><use href="#g48" x="21"/></g>
<g transform="translate(1876.3 729.4) scale(0.7143) translate(0 -21)" stroke="#0f0f0f" stroke-width="2.625"><use href="#g68" x="0"/><use href="#g49" x="21"/></g>
<g transform="translate(1876.3 759.4) scale(0.7143) translate(0 -21)" stroke="#0f0f0f" stroke-width="2.625"><use href="#g68" x="0"/><use href="#g50" x="21"/></g>
<g transform="translate(1876.3 789.4) scale(0.7143) translate(0 -21)" stroke="#0f0f0f" stroke-width="2.625"><use href="#g68" x="0"/><use href="#g51" x="21"/></g>
<g transform="translate(1876.3 819.4) scale(0.7143) translate(0 -21)" stroke="#0f0f0f" stroke-width="2.625"><use href="#g68" x="0"/><use href="#g52" x="21"/></g>
<g transform="translate(1876.3 849.4) scale(0.7143) translate(0 -21)" stroke="#0f0f0f" stroke-width="2.625"><use href="#g68" x="0"/><use href="#g53" x="21"/></g>
<g transform="translate(1876.3 879.4) scale(0.7143) translate(0 -21)" stroke="#0f0f0f" stroke-width="2.625"><use href="#g68" x="0"/><use href="#g54" x="21"/></g>
<g transform="translate(1876.3 909.4) scale(0.7143) translate(0 -21)" stroke="#0f0f0f" stroke-width="2.625"><use href="#g68" x="0"/><use href="#g55" x="21"/></g>
<g transform="translate(2503.8 714.4) scale(0.7143) translate(0 -21)" stroke="#0f0f0f" stroke-width="2.625"><use href="#g68" x="-41"/><use href="#g48" x="-20"/></g>
<g transform="translate(2503.8 744.4) scale(0.7143) translate(0 -21)" stroke="#0f0f0f" stroke-width="2.625"><use href="#g68" x="-41"/><use href="#g49" x="-20"/></g>
<g transform="translate(2503.8 774.4) scale(0.7143) translate(0 -21)" stroke="#0f0f0f" stroke-width="2.625"><use href="#g68" x="-41"/><use href="#g50" x="-20"/></g>
<g transform="translate(2503.8 804.4) scale(0.7143) translate(0 -21)" stroke="#0f0f0f" stroke-width="2.625"><use href="#g68" x="-41"/><use href="#g51" x="-20"/></g>
<g transform="translate(2503.8 834.4) scale(0.7143) translate(0 -21)" stroke="#0f0f0f" stroke-width="2.625"><use href="#g68" x="-41"/><use href="#g52" x="-20"/></g>
<g transform="translate(2503.8 864.4) scale(0.7143) translate(0 -21)" stroke="#0f0f0f" stroke-width="2.625"><use href="#g68" x="-41"/><use href="#g53" x="-20"/></g>
<g transform="translate(2503.8 894.4) scale(0.7143) translate(0 -21)" stroke="#0f0f0f" stroke-width="2.625"><use href="#g68" x="-41"/><use href="#g54" x="-20"/></g>
<g transform="translate(2503.8 924.4) scale(0.7143) translate(0 -21)" stroke="#0f0f0f" stroke-width="2.625"><use href="#g68" x="-41"/><use href="#g55" x="-20"/></g>
<g transform="translate(2503.8 984.4) scale(0.7143) translate(0 -21)" stroke="#0f0f0f" stroke-width="2.625"><use href="#g65" x="-38"/><use href="#g48" x="-20"/></g>
<g transform="translate(2503.8 1014.4) scale(0.7143) translate(0 -21)" stroke="#0f0f0f" stroke-width="2.625"><use href="#g65" x="-38"/><use href="#g49" x="-20"/></g>
<g transform="translate(2503.8 1044.4) scale(0.7143) translate(0 -21)" stroke="#0f0f0f" stroke-width="2.625"><use href="#g65" x="-38"/><use href="#g50" x="-20"/></g>
<g transform="translate(766.3 1209.4) scale(0.7143) translate(0 -21)" stroke="#0f0f0f" stroke-width="2.625"><use href="#g82" x="0"/><use href="#g47" x="21"/><use href="#g33" x="43"/><use href="#g87" x="53"/></g>
<g transform="translate(1336.3 1059.4) scale(0.7143) translate(0 -21)" stroke="#0f0f0f" stroke-width="2.625"><use href="#g82" x="0"/><use href="#g47" x="21"/><use href="#g33" x="43"/><use href="#g87" x="53"/></g>
<g transform="translate(1604.3 1179.4) scale(0.7143) translate(0 -21)" stroke="#0f0f0f" stroke-width="2.625"><use href="#g82" x="-77"/><use href="#g47" x="-56"/><use href="#g33" x="-34"/><use href="#g87" x="-24"/></g>
<g transform="translate(2501 1374.4) scale(0.7143) translate(0 -21)" stroke="#0f0f0f" stroke-width="2.625"><use href="#g82" x="-77"/><use href="#g47" x="-56"/><use href="#g33" x="-34"/><use href="#g87" x="-24"/></g>
<g transform="translate(2501 1434.4) scale(0.7143) translate(0 -21)" stroke="#0f0f0f" stroke-width="2.625"><use href="#g82" x="-77"/><use href="#g47" x="-56"/><use href="#g33" x="-34"/><use href="#g87" x="-24"/></g>
<g transform="translate(266.9 840.6) scale(0.7143) translate(0 -10.5)" stroke="#840000" stroke-width="2.625"><use href="#g47" x="-117"/><use href="#g82" x="-95"/><use href="#g69" x="-74"/><use href="#g83" x="-55"/><use href="#g69" x="-35"/><use href="#g84" x="-16"/></g>
<g transform="translate(465 700.3) scale(0.7143) translate(0 -21)" stroke="#a90000" stroke-width="2.625"><use href="#g51" x="-20"/><use href="#g49" x="0"/></g>
<g transform="translate(487.1 704.8) scale(0.7143) translate(0 -10.5)" stroke="#006464" stroke-width="2.625"><use href="#g68" x="0"/><use href="#g48" x="21"/></g>
<g transform="translate(465 730.3) scale(0.7143) translate(0 -21)" stroke="#a90000" stroke-width="2.625"><use href="#g51" x="-20"/><use href="#g48" x="0"/></g>
<g transform="translate(487.1 734.8) scale(0.7143) translate(0 -10.5)" stroke="#006464" stroke-width="2.625"><use href="#g68" x="0"/><use href="#g49" x="21"/></g>
<g transform="translate(465 760.3) scale(0.7143) translate(0 -21)" stroke="#a90000" stroke-width="2.625"><use href="#g50" x="-20"/><use href="#g57" x="0"/></g>
<g transform="translate(487.1 764.8) scale(0.7143) translate(0 -10.5)" stroke="#006464" stroke-width="2.625"><use href="#g68" x="0"/><use href="#g50" x="21"/></g>
<g transform="translate(465 790.3) scale(0.7143) translate(0 -21)" stroke="#a90000" stroke-width="2.625"><use href="#g50" x="-20"/><use href="#g56" x="0"/></g>
<g transform="translate(487.1 794.8) scale(0.7143) translate(0 -10.5)" stroke="#006464" stroke-width="2.625"><use href="#g68" x="0"/><use href="#g51" x="21"/></g>
<g transform="translate(465 820.3) scale(0.7143) translate(0 -21)" stroke="#a90000" stroke-width="2.625"><use href="#g50" x="-20"/><use href="#g55" x="0"/></g>
<g transform="translate(487.1 824.8) scale(0.7143) translate(0 -10.5)" stroke="#006464" stroke-width="2.625"><use href="#g68" x="0"/><use href="#g52" x="21"/></g>
<g transform="translate(465 850.3) scale(0.7143) translate(0 -21)" stroke="#a90000" stroke-width="2.625"><use href="#g50" x="-20"/><use href="#g54" x="0"/></g>
<g transform="translate(487.1 854.8) scale(0.7143) translate(0 -10.5)" stroke="#006464" stroke-width="2.625"><use href="#g68" x="0"/><use href="#g53" x="21"/></g>
<g transform="translate(465 880.3) scale(0.7143) translate(0 -21)" stroke="#a90000" stroke-width="2.625"><use href="#g50" x="-20"/><use href="#g53" x="0"/></g>
<g transform="translate(487.1 884.8) scale(0.7143) translate(0 -10.5)" stroke="#006464" stroke-width="2.625"><use href="#g68" x="0"/><use href="#g54" x="21"/></g>
<g transform="translate(465 910.3) scale(0.7143) translate(0 -21)" stroke="#a90000" stroke-width="2.625"><use href="#g50" x="-20"/><use href="#g52" x="0"/></g>
<g transform="translate(487.1 914.8) scale(0.7143) translate(0 -10.5)" stroke="#006464" stroke-width="2.625"><use href="#g68" x="0"/><use href="#g55" x="21"/></g>
<g transform="translate(465 970.3) scale(0.7143) translate(0 -21)" stroke="#a90000" stroke-width="2.625"><use href="#g51" x="-20"/><use href="#g55" x="0"/></g>
<g transform="translate(487.1 974.8) scale(0.7143) translate(0 -10.5)" stroke="#006464" stroke-width="2.625"><use href="#g82" x="0"/><use href="#g69" x="21"/><use href="#g83" x="40"/><use href="#g69" x="60"/><use href="#g84" x="79"/><path d="M1.6 -5L93.4 -5"/></g>
<g transform="translate(465 1000.3) scale(0.7143) translate(0 -21)" stroke="#a90000" stroke-width="2.625"><use href="#g50" x="-10"/></g>
<g transform="translate(487.1 1004.8) scale(0.7143) translate(0 -10.5)" stroke="#006464" stroke-width="2.625"><use href="#g78" x="0"/><use href="#g77" x="22"/><use href="#g73" x="46"/><path d="M1.6 -5L52.4 -5"/></g>
<g transform="translate(465 1030.3) scale(0.7143) translate(0 -21)" stroke="#a90000" stroke-width="2.625"><use href="#g51" x="-10"/></g>
<g transform="translate(487.1 1034.8) scale(0.7143) translate(0 -10.5)" stroke="#006464" stroke-width="2.625"><use href="#g73" x="0"/><use href="#g82" x="8"/><use href="#g81" x="29"/><path d="M1.6 -5L49.4 -5"/></g>
<g transform="translate(465 1060.3) scale(0.7143) translate(0 -21)" stroke="#a90000" stroke-width="2.625"><use href="#g52" x="-10"/></g>
<g transform="translate(487.1 1064.8) scale(0.7143) translate(0 -10.5)" stroke="#006464" stroke-width="2.625"><use href="#g70" x="0"/><use href="#g73" x="18"/><use href="#g82" x="26"/><use href="#g81" x="47"/><path d="M1.6 -5L67.4 -5"/></g>
<g transform="translate(465 1210.3) scale(0.7143) translate(0 -21)" stroke="#a90000" stroke-width="2.625"><use href="#g51" x="-20"/><use href="#g51" x="0"/></g>
<g transform="translate(487.1 1214.8) scale(0.7143) translate(0 -10.5)" stroke="#006464" stroke-width="2.625"><use href="#g68" x="0"/><use href="#g77" x="21"/><use href="#g65" x="45"/><use href="#g47" x="63"/><use href="#g66" x="85"/><use href="#g82" x="106"/><use href="#g69" x="127"/><use href="#g81" x="146"/><path d="M1.6 -5L166.4 -5"/></g>
<g transform="translate(465 1240.3) scale(0.7143) translate(0 -21)" stroke="#a90000" stroke-width="2.625"><use href="#g52" x="-20"/><use href="#g48" x="0"/></g>
<g transform="translate(487.1 1244.8) scale(0.7143) translate(0 -10.5)" stroke="#006464" stroke-width="2.625"><use href="#g72" x="0"/><use href="#g65" x="22"/><use href="#g76" x="40"/><use href="#g84" x="57"/><path d="M1.6 -5L71.4 -5"/></g>
<g transform="translate(465 1330.3) scale(0.7143) translate(0 -21)" stroke="#a90000" stroke-width="2.625"><use href="#g51" x="-20"/><use href="#g54" x="0"/></g>
<g transform="translate(487.1 1334.8) scale(0.7143) translate(0 -10.5)" stroke="#006464" stroke-width="2.625"><use href="#g77" x="0"/><use href="#g82" x="24"/><use href="#g68" x="45"/><use href="#g89" x="66"/></g>
<g transform="translate(465 1360.3) scale(0.7143) translate(0 -21)" stroke="#a90000" stroke-width="2.625"><use href="#g51" x="-20"/><use href="#g57" x="0"/></g>
<g transform="translate(487.1 1364.8) scale(0.7143) translate(0 -10.5)" stroke="#006464" stroke-width="2.625"><use href="#g88" x="0"/><use href="#g84" x="20"/><use href="#g65" x="36"/><use href="#g76" x="54"/></g>
<g transform="translate(465 1390.3) scale(0.7143) translate(0 -21)" stroke="#a90000" stroke-width="2.625"><use href="#g51" x="-20"/><use href="#g56" x="0"/></g>
<g transform="translate(487.1 1394.8) scale(0.7143) translate(0 -10.5)" stroke="#006464" stroke-width="2.625"><use href="#g69" x="0"/><use href="#g88" x="19"/><use href="#g84" x="39"/><use href="#g65" x="55"/><use href="#g76" x="73"/></g>
<g transform="translate(735 700.3) scale(0.7143) translate(0 -21)" stroke="#a90000" stroke-width="2.625"><use href="#g56" x="-10"/></g>
<g transform="translate(714 704.8) scale(0.7143) translate(0 -10.5)" stroke="#006464" stroke-width="2.625"><use href="#g65" x="-38"/><use href="#g48" x="-20"/></g>
<g transform="translate(735 730.3) scale(0.7143) translate(0 -21)" stroke="#a90000" stroke-width="2.625"><use href="#g57" x="-10"/></g>
<g transform="translate(714 734.8) scale(0.7143) translate(0 -10.5)" stroke="#006464" stroke-width="2.625"><use href="#g65" x="-38"/><use href="#g49" x="-20"/></g>
<g transform="translate(735 760.3) scale(0.7143) translate(0 -21)" stroke="#a90000" stroke-width="2.625"><use href="#g49" x="-20"/><use href="#g48" x="0"/></g>
<g transform="translate(714 764.8) scale(0.7143) translate(0 -10.5)" stroke="#006464" stroke-width="2.625"><use href="#g65" x="-38"/><use href="#g50" x="-20"/></g>
<g transform="translate(735 790.3) scale(0.7143) translate(0 -21)" stroke="#a90000" stroke-width="2.625"><use href="#g49" x="-20"/><use href="#g49" x="0"/></g>
<g transform="translate(714 794.8) scale(0.7143) translate(0 -10.5)" stroke="#006464" stroke-width="2.625"><use href="#g65" x="-38"/><use href="#g51" x="-20"/></g>
<g transform="translate(735 820.3) scale(0.7143) translate(0 -21)" stroke="#a90000" stroke-width="2.625"><use href="#g49" x="-20"/><use href="#g50" x="0"/></g>
<g transform="translate(714 824.8) scale(0.7143) translate(0 -10.5)" stroke="#006464" stroke-width="2.625"><use href="#g65" x="-38"/><use href="#g52" x="-20"/></g>
<g transform="translate(735 850.3) scale(0.7143) translate(0 -21)" stroke="#a90000" stroke-width="2.625"><use href="#g49" x="-20"/><use href="#g51" x="0"/></g>
<g transform="translate(714 854.8) scale(0.7143) translate(0 -10.5)" stroke="#006464" stroke-width="2.625"><use href="#g65" x="-38"/><use href="#g53" x="-20"/></g>
<g transform="translate(735 880.3) scale(0.7143) translate(0 -21)" stroke="#a90000" stroke-width="2.625"><use href="#g49" x="-20"/><use href="#g52" x="0"/></g>
<g transform="translate(714 884.8) scale(0.7143) translate(0 -10.5)" stroke="#006464" stroke-width="2.625"><use href="#g65" x="-38"/><use href="#g54" x="-20"/></g>
<g transform="translate(735 910.3) scale(0.7143) translate(0 -21)" stroke="#a90000" stroke-width="2.625"><use href="#g49" x="-20"/><use href="#g53" x="0"/></g>
<g transform="translate(714 914.8) scale(0.7143) translate(0 -10.5)" stroke="#006464" stroke-width="2.625"><use href="#g65" x="-38"/><use href="#g55" x="-20"/></g>
<g transform="translate(735 940.3) scale(0.7143) translate(0 -21)" stroke="#a90000" stroke-width="2.625"><use href="#g49" x="-20"/><use href="#g54" x="0"/></g>
<g transform="translate(714 944.8) scale(0.7143) translate(0 -10.5)" stroke="#006464" stroke-width="2.625"><use href="#g65" x="-38"/><use href="#g56" x="-20"/></g>
<g transform="translate(735 970.3) scale(0.7143) translate(0 -21)" stroke="#a90000" stroke-width="2.625"><use href="#g49" x="-20"/><use href="#g55" x="0"/></g>
<g transform="translate(714 974.8) scale(0.7143) translate(0 -10.5)" stroke="#006464" stroke-width="2.625"><use href="#g65" x="-38"/><use href="#g57" x="-20"/></g>
<g transform="translate(735 1000.3) scale(0.7143) translate(0 -21)" stroke="#a90000" stroke-width="2.625"><use href="#g49" x="-20"/><use href="#g56" x="0"/></g>
<g transform="translate(714 1004.8) scale(0.7143) translate(0 -10.5)" stroke="#006464" stroke-width="2.625"><use href="#g65" x="-58"/><use href="#g49" x="-40"/><use href="#g48" x="-20"/></g>
<g transform="translate(735 1030.3) scale(0.7143) translate(0 -21)" stroke="#a90000" stroke-width="2.625"><use href="#g49" x="-20"/><use href="#g57" x="0"/></g>
<g transform="translate(714 1034.8) scale(0.7143) translate(0 -10.5)" stroke="#006464" stroke-width="2.625"><use href="#g65" x="-58"/><use href="#g49" x="-40"/><use href="#g49" x="-20"/></g>
<g transform="translate(735 1060.3) scale(0.7143) translate(0 -21)" stroke="#a90000" stroke-width="2.625"><use href="#g50" x="-20"/><use href="#g48" x="0"/></g>
<g transform="translate(714 1064.8) scale(0.7143) translate(0 -10.5)" stroke="#006464" stroke-width="2.625"><use href="#g65" x="-58"/><use href="#g49" x="-40"/><use href="#g50" x="-20"/></g>
<g transform="translate(735 1090.3) scale(0.7143) translate(0 -21)" stroke="#a90000" stroke-width="2.625"><use href="#g50" x="-20"/><use href="#g49" x="0"/></g>
<g transform="translate(714 1094.8) scale(0.7143) translate(0 -10.5)" stroke="#006464" stroke-width="2.625"><use href="#g65" x="-58"/><use href="#g49" x="-40"/><use href="#g51" x="-20"/></g>
<g transform="translate(735 1120.3) scale(0.7143) translate(0 -21)" stroke="#a90000" stroke-width="2.625"><use href="#g50" x="-20"/><use href="#g50" x="0"/></g>
<g transform="translate(714 1124.8) scale(0.7143) translate(0 -10.5)" stroke="#006464" stroke-width="2.625"><use href="#g65" x="-58"/><use href="#g49" x="-40"/><use href="#g52" x="-20"/></g>
<g transform="translate(735 1150.3) scale(0.7143) translate(0 -21)" stroke="#a90000" stroke-width="2.625"><use href="#g50" x="-20"/><use href="#g51" x="0"/></g>
<g transform="translate(714 1154.8) scale(0.7143) translate(0 -10.5)" stroke="#006464" stroke-width="2.625"><use href="#g65" x="-58"/><use href="#g49" x="-40"/><use href="#g53" x="-20"/></g>
<g transform="translate(735 1210.3) scale(0.7143) translate(0 -21)" stroke="#a90000" stroke-width="2.625"><use href="#g51" x="-20"/><use href="#g50" x="0"/></g>
<g transform="translate(714 1214.8) scale(0.7143) translate(0 -10.5)" stroke="#006464" stroke-width="2.625"><use href="#g82" x="-67"/><use href="#g47" x="-46"/><use href="#g87" x="-24"/><path d="M-22.4 -5L-1.6 -5"/></g>
<g transform="translate(735 1240.3) scale(0.7143) translate(0 -21)" stroke="#a90000" stroke-width="2.625"><use href="#g53" x="-10"/></g>
<g transform="translate(714 1244.8) scale(0.7143) translate(0 -10.5)" stroke="#006464" stroke-width="2.625"><use href="#g66" x="-41"/><use href="#g83" x="-20"/></g>
<g transform="translate(735 1270.3) scale(0.7143) translate(0 -21)" stroke="#a90000" stroke-width="2.625"><use href="#g54" x="-10"/></g>
<g transform="translate(714 1274.8) scale(0.7143) translate(0 -10.5)" stroke="#006464" stroke-width="2.625"><use href="#g66" x="-39"/><use href="#g65" x="-18"/></g>
<g transform="translate(735 1330.3) scale(0.7143) translate(0 -21)" stroke="#a90000" stroke-width="2.625"><use href="#g51" x="-20"/><use href="#g52" x="0"/></g>
<g transform="translate(714 1334.8) scale(0.7143) translate(0 -10.5)" stroke="#006464" stroke-width="2.625"><use href="#g69" x="-19"/></g>
<g transform="translate(735 1360.3) scale(0.7143) translate(0 -21)" stroke="#a90000" stroke-width="2.625"><use href="#g51" x="-20"/><use href="#g53" x="0"/></g>
<g transform="translate(714 1364.8) scale(0.7143) translate(0 -10.5)" stroke="#006464" stroke-width="2.625"><use href="#g81" x="-22"/></g>
<g transform="translate(595.3 660) rotate(-90) scale(0.7143) translate(0 -21)" stroke="#a90000" stroke-width="2.625"><use href="#g55" x="-10"/></g>
<g transform="translate(599.8 682.1) rotate(-90) scale(0.7143) translate(0 -10.5)" stroke="#006464" stroke-width="2.625"><use href="#g86" x="-60"/><use href="#g67" x="-42"/><use href="#g67" x="-21"/></g>
<g transform="translate(595.3 1470) rotate(-90) scale(0.7143) translate(0 -21)" stroke="#a90000" stroke-width="2.625"><use href="#g49" x="-10"/></g>
<g transform="translate(599.8 1447.9) rotate(-90) scale(0.7143) translate(0 -10.5)" stroke="#006464" stroke-width="2.625"><use href="#g86" x="0"/><use href="#g83" x="18"/><use href="#g83" x="38"/></g>
<g transform="translate(600 420) scale(0.7143) translate(0 -10.5)" stroke="#006464" stroke-width="2.625"><use href="#g43" x="-32"/><use href="#g53" x="-6"/><use href="#g86" x="14"/></g>
<g transform="translate(508.5 524.3) scale(0.7143) translate(0 -10.5)" stroke="#006464" stroke-width="2.625"><use href="#g67" x="-41"/><use href="#g49" x="-20"/></g>
<g transform="translate(508.5 554.3) scale(0.7143) translate(0 -10.5)" stroke="#006464" stroke-width="2.625"><use href="#g48" x="-101"/><use href="#g46" x="-81"/><use href="#g48" x="-71"/><use href="#g49" x="-51"/><use href="#g117" x="-31"/><use href="#g102" x="-12"/></g>
<g transform="translate(628.5 614.3) scale(0.7143) translate(0 -10.5)" stroke="#006464" stroke-width="2.625"><use href="#g85" x="0"/><use href="#g49" x="22"/></g>
<g transform="translate(628.5 644.5) scale(0.7143) translate(0 -10.5)" stroke="#006464" stroke-width="2.625"><use href="#g77" x="0"/><use href="#g67" x="24"/><use href="#g54" x="45"/><use href="#g56" x="65"/><use href="#g48" x="85"/><use href="#g57" x="105"/></g>
<g transform="translate(487.2 656.4) scale(0.7143) translate(0 -10.5)" stroke="#0000c2" stroke-width="2.625"><use href="#g67" x="0"/><use href="#g80" x="21"/><use href="#g85" x="42"/></g>
<g transform="translate(300 930) scale(0.7143) translate(0 -10.5)" stroke="#006464" stroke-width="2.625"><use href="#g43" x="-32"/><use href="#g53" x="-6"/><use href="#g86" x="14"/></g>
<g transform="translate(330 1394.5) scale(0.7143) translate(0 -10.5)" stroke="#006464" stroke-width="2.625"><use href="#g88" x="-20"/><use href="#g49" x="0"/></g>
<g transform="translate(330 1424.5) scale(0.7143) translate(0 -10.5)" stroke="#006464" stroke-width="2.625"><use href="#g49" x="-51.5"/><use href="#g50" x="-31.5"/><use href="#g77" x="-11.5"/><use href="#g72" x="12.5"/><use href="#g122" x="34.5"/></g>
<g transform="translate(301.5 1514.3) scale(0.7143) translate(0 -10.5)" stroke="#006464" stroke-width="2.625"><use href="#g67" x="0"/><use href="#g52" x="21"/></g>
<g transform="translate(301.5 1544.3) scale(0.7143) translate(0 -10.5)" stroke="#006464" stroke-width="2.625"><use href="#g63" x="0"/><use href="#g112" x="18"/><use href="#g70" x="37"/></g>
<g transform="translate(421.5 1514.3) scale(0.7143) translate(0 -10.5)" stroke="#006464" stroke-width="2.625"><use href="#g67" x="0"/><use href="#g53" x="21"/></g>
<g transform="translate(421.5 1544.3) scale(0.7143) translate(0 -10.5)" stroke="#006464" stroke-width="2.625"><use href="#g63" x="0"/><use href="#g112" x="18"/><use href="#g70" x="37"/></g>
<g transform="translate(1035 700.3) scale(0.7143) translate(0 -21)" stroke="#a90000" stroke-width="2.625"><use href="#g49" x="-20"/><use href="#g48" x="0"/></g>
<g transform="translate(1057.1 704.8) scale(0.7143) translate(0 -10.5)" stroke="#006464" stroke-width="2.625"><use href="#g65" x="0"/><use href="#g48" x="18"/></g>
<g transform="translate(1035 730.3) scale(0.7143) translate(0 -21)" stroke="#a90000" stroke-width="2.625"><use href="#g57" x="-10"/></g>
<g transform="translate(1057.1 734.8) scale(0.7143) translate(0 -10.5)" stroke="#006464" stroke-width="2.625"><use href="#g65" x="0"/><use href="#g49" x="18"/></g>
<g transform="translate(1035 760.3) scale(0.7143) translate(0 -21)" stroke="#a90000" stroke-width="2.625"><use href="#g56" x="-10"/></g>
<g transform="translate(1057.1 764.8) scale(0.7143) translate(0 -10.5)" stroke="#006464" stroke-width="2.625"><use href="#g65" x="0"/><use href="#g50" x="18"/></g>
<g transform="translate(1035 790.3) scale(0.7143) translate(0 -21)" stroke="#a90000" stroke-width="2.625"><use href="#g55" x="-10"/></g>
<g transform="translate(1057.1 794.8) scale(0.7143) translate(0 -10.5)" stroke="#006464" stroke-width="2.625"><use href="#g65" x="0"/><use href="#g51" x="18"/></g>
<g transform="translate(1035 820.3) scale(0.7143) translate(0 -21)" stroke="#a90000" stroke-width="2.625"><use href="#g54" x="-10"/></g>
<g transform="translate(1057.1 824.8) scale(0.7143) translate(0 -10.5)" stroke="#006464" stroke-width="2.625"><use href="#g65" x="0"/><use href="#g52" x="18"/></g>
<g transform="translate(1035 850.3) scale(0.7143) translate(0 -21)" stroke="#a90000" stroke-width="2.625"><use href="#g53" x="-10"/></g>
<g transform="translate(1057.1 854.8) scale(0.7143) translate(0 -10.5)" stroke="#006464" stroke-width="2.625"><use href="#g65" x="0"/><use href="#g53" x="18"/></g>
<g transform="translate(1035 880.3) scale(0.7143) translate(0 -21)" stroke="#a90000" stroke-width="2.625"><use href="#g52" x="-10"/></g>
<g transform="translate(1057.1 884.8) scale(0.7143) translate(0 -10.5)" stroke="#006464" stroke-width="2.625"><use href="#g65" x="0"/><use href="#g54" x="18"/></g>
<g transform="translate(1035 910.3) scale(0.7143) translate(0 -21)" stroke="#a90000" stroke-width="2.625"><use href="#g51" x="-10"/></g>
<g transform="translate(1057.1 914.8) scale(0.7143) translate(0 -10.5)" stroke="#006464" stroke-width="2.625"><use href="#g65" x="0"/><use href="#g55" x="18"/></g>
<g transform="translate(1035 940.3) scale(0.7143) translate(0 -21)" stroke="#a90000" stroke-width="2.625"><use href="#g50" x="-20"/><use href="#g53" x="0"/></g>
<g transform="translate(1057.1 944.8) scale(0.7143) translate(0 -10.5)" stroke="#006464" stroke-width="2.625"><use href="#g65" x="0"/><use href="#g56" x="18"/></g>
<g transform="translate(1035 970.3) scale(0.7143) translate(0 -21)" stroke="#a90000" stroke-width="2.625"><use href="#g50" x="-20"/><use href="#g52" x="0"/></g>
<g transform="translate(1057.1 974.8) scale(0.7143) translate(0 -10.5)" stroke="#006464" stroke-width="2.625"><use href="#g65" x="0"/><use href="#g57" x="18"/></g>
<g transform="translate(1035 1000.3) scale(0.7143) translate(0 -21)" stroke="#a90000" stroke-width="2.625"><use href="#g50" x="-20"/><use href="#g49" x="0"/></g>
<g transform="translate(1057.1 1004.8) scale(0.7143) translate(0 -10.5)" stroke="#006464" stroke-width="2.625"><use href="#g65" x="0"/><use href="#g49" x="18"/><use href="#g48" x="38"/></g>
<g transform="translate(1035 1030.3) scale(0.7143) translate(0 -21)" stroke="#a90000" stroke-width="2.625"><use href="#g50" x="-20"/><use href="#g51" x="0"/></g>
<g transform="translate(1057.1 1034.8) scale(0.7143) translate(0 -10.5)" stroke="#006464" stroke-width="2.625"><use href="#g65" x="0"/><use href="#g49" x="18"/><use href="#g49" x="38"/></g>
<g transform="translate(1035 1060.3) scale(0.7143) translate(0 -21)" stroke="#a90000" stroke-width="2.625"><use href="#g50" x="-10"/></g>
<g transform="translate(1057.1 1064.8) scale(0.7143) translate(0 -10.5)" stroke="#006464" stroke-width="2.625"><use href="#g65" x="0"/><use href="#g49" x="18"/><use href="#g50" x="38"/></g>
<g transform="translate(1035 1090.3) scale(0.7143) translate(0 -21)" stroke="#a90000" stroke-width="2.625"><use href="#g50" x="-20"/><use href="#g54" x="0"/></g>
<g transform="translate(1057.1 1094.8) scale(0.7143) translate(0 -10.5)" stroke="#006464" stroke-width="2.625"><use href="#g65" x="0"/><use href="#g49" x="18"/><use href="#g51" x="38"/></g>
<g transform="translate(1035 1120.3) scale(0.7143) translate(0 -21)" stroke="#a90000" stroke-width="2.625"><use href="#g49" x="-10"/></g>
<g transform="translate(1057.1 1124.8) scale(0.7143) translate(0 -10.5)" stroke="#006464" stroke-width="2.625"><use href="#g65" x="0"/><use href="#g49" x="18"/><use href="#g52" x="38"/></g>
<g transform="translate(1305 700.3) scale(0.7143) translate(0 -21)" stroke="#a90000" stroke-width="2.625"><use href="#g49" x="-20"/><use href="#g49" x="0"/></g>
<g transform="translate(1284 704.8) scale(0.7143) translate(0 -10.5)" stroke="#006464" stroke-width="2.625"><use href="#g81" x="-42"/><use href="#g48" x="-20"/></g>
<g transform="translate(1305 730.3) scale(0.7143) translate(0 -21)" stroke="#a90000" stroke-width="2.625"><use href="#g49" x="-20"/><use href="#g50" x="0"/></g>
<g transform="translate(1284 734.8) scale(0.7143) translate(0 -10.5)" stroke="#006464" stroke-width="2.625"><use href="#g81" x="-42"/><use href="#g49" x="-20"/></g>
<g transform="translate(1305 760.3) scale(0.7143) translate(0 -21)" stroke="#a90000" stroke-width="2.625"><use href="#g49" x="-20"/><use href="#g51" x="0"/></g>
<g transform="translate(1284 764.8) scale(0.7143) translate(0 -10.5)" stroke="#006464" stroke-width="2.625"><use href="#g81" x="-42"/><use href="#g50" x="-20"/></g>
<g transform="translate(1305 790.3) scale(0.7143) translate(0 -21)" stroke="#a90000" stroke-width="2.625"><use href="#g49" x="-20"/><use href="#g53" x="0"/></g>
<g transform="translate(1284 794.8) scale(0.7143) translate(0 -10.5)" stroke="#006464" stroke-width="2.625"><use href="#g81" x="-42"/><use href="#g51" x="-20"/></g>
<g transform="translate(1305 820.3) scale(0.7143) translate(0 -21)" stroke="#a90000" stroke-width="2.625"><use href="#g49" x="-20"/><use href="#g54" x="0"/></g>
<g transform="translate(1284 824.8) scale(0.7143) translate(0 -10.5)" stroke="#006464" stroke-width="2.625"><use href="#g81" x="-42"/><use href="#g52" x="-20"/></g>
<g transform="translate(1305 850.3) scale(0.7143) translate(0 -21)" stroke="#a90000" stroke-width="2.625"><use href="#g49" x="-20"/><use href="#g55" x="0"/></g>
<g transform="translate(1284 854.8) scale(0.7143) translate(0 -10.5)" stroke="#006464" stroke-width="2.625"><use href="#g81" x="-42"/><use href="#g53" x="-20"/></g>
<g transform="translate(1305 880.3) scale(0.7143) translate(0 -21)" stroke="#a90000" stroke-width="2.625"><use href="#g49" x="-20"/><use href="#g56" x="0"/></g>
<g transform="translate(1284 884.8) scale(0.7143) translate(0 -10.5)" stroke="#006464" stroke-width="2.625"><use href="#g81" x="-42"/><use href="#g54" x="-20"/></g>
<g transform="translate(1305 910.3) scale(0.7143) translate(0 -21)" stroke="#a90000" stroke-width="2.625"><use href="#g49" x="-20"/><use href="#g57" x="0"/></g>
<g transform="translate(1284 914.8) scale(0.7143) translate(0 -10.5)" stroke="#006464" stroke-width="2.625"><use href="#g81" x="-42"/><use href="#g55" x="-20"/></g>
<g transform="translate(1305 970.3) scale(0.7143) translate(0 -21)" stroke="#a90000" stroke-width="2.625"><use href="#g50" x="-20"/><use href="#g48" x="0"/></g>
<g transform="translate(1284 974.8) scale(0.7143) translate(0 -10.5)" stroke="#006464" stroke-width="2.625"><use href="#g67" x="-41"/><use href="#g83" x="-20"/><path d="M-39.4 -5L-1.6 -5"/></g>
<g transform="translate(1305 1030.3) scale(0.7143) translate(0 -21)" stroke="#a90000" stroke-width="2.625"><use href="#g50" x="-20"/><use href="#g50" x="0"/></g>
<g transform="translate(1284 1034.8) scale(0.7143) translate(0 -10.5)" stroke="#006464" stroke-width="2.625"><use href="#g79" x="-41"/><use href="#g69" x="-19"/><path d="M-39.4 -5L-1.6 -5"/></g>
<g transform="translate(1305 1060.3) scale(0.7143) translate(0 -21)" stroke="#a90000" stroke-width="2.625"><use href="#g50" x="-20"/><use href="#g55" x="0"/></g>
<g transform="translate(1284 1064.8) scale(0.7143) translate(0 -10.5)" stroke="#006464" stroke-width="2.625"><use href="#g87" x="-43"/><use href="#g69" x="-19"/><path d="M-41.4 -5L-1.6 -5"/></g>
<g transform="translate(1165.3 660) rotate(-90) scale(0.7143) translate(0 -21)" stroke="#a90000" stroke-width="2.625"><use href="#g50" x="-20"/><use href="#g56" x="0"/></g>
<g transform="translate(1169.8 682.1) rotate(-90) scale(0.7143) translate(0 -10.5)" stroke="#006464" stroke-width="2.625"><use href="#g86" x="-60"/><use href="#g67" x="-42"/><use href="#g67" x="-21"/></g>
<g transform="translate(1165.3 1170) rotate(-90) scale(0.7143) translate(0 -21)" stroke="#a90000" stroke-width="2.625"><use href="#g49" x="-20"/><use href="#g52" x="0"/></g>
<g transform="translate(1169.8 1147.9) rotate(-90) scale(0.7143) translate(0 -10.5)" stroke="#006464" stroke-width="2.625"><use href="#g71" x="0"/><use href="#g78" x="21"/><use href="#g68" x="43"/></g>
<g transform="translate(1170 435) scale(0.7143) translate(0 -10.5)" stroke="#006464" stroke-width="2.625"><use href="#g43" x="-32"/><use href="#g53" x="-6"/><use href="#g86" x="14"/></g>
<g transform="translate(1078.5 539.3) scale(0.7143) translate(0 -10.5)" stroke="#006464" stroke-width="2.625"><use href="#g67" x="-41"/><use href="#g50" x="-20"/></g>
<g transform="translate(1078.5 569.3) scale(0.7143) translate(0 -10.5)" stroke="#006464" stroke-width="2.625"><use href="#g48" x="-101"/><use href="#g46" x="-81"/><use href="#g48" x="-71"/><use href="#g49" x="-51"/><use href="#g117" x="-31"/><use href="#g102" x="-12"/></g>
<g transform="translate(1197.8 614.3) scale(0.7143) translate(0 -10.5)" stroke="#006464" stroke-width="2.625"><use href="#g85" x="0"/><use href="#g50" x="22"/></g>
<g transform="translate(1197.8 644.5) scale(0.7143) translate(0 -10.5)" stroke="#006464" stroke-width="2.625"><use href="#g54" x="0"/><use href="#g50" x="20"/><use href="#g50" x="40"/><use href="#g53" x="60"/><use href="#g54" x="80"/></g>
<g transform="translate(1058 659.3) scale(0.7143) translate(0 -10.5)" stroke="#0000c2" stroke-width="2.625"><use href="#g82" x="0"/><use href="#g65" x="21"/><use href="#g77" x="39"/></g>
<g transform="translate(1635 700.3) scale(0.7143) translate(0 -21)" stroke="#a90000" stroke-width="2.625"><use href="#g49" x="-20"/><use href="#g48" x="0"/></g>
<g transform="translate(1657.1 704.8) scale(0.7143) translate(0 -10.5)" stroke="#006464" stroke-width="2.625"><use href="#g65" x="0"/><use href="#g48" x="18"/></g>
<g transform="translate(1635 730.3) scale(0.7143) translate(0 -21)" stroke="#a90000" stroke-width="2.625"><use href="#g57" x="-10"/></g>
<g transform="translate(1657.1 734.8) scale(0.7143) translate(0 -10.5)" stroke="#006464" stroke-width="2.625"><use href="#g65" x="0"/><use href="#g49" x="18"/></g>
<g transform="translate(1635 760.3) scale(0.7143) translate(0 -21)" stroke="#a90000" stroke-width="2.625"><use href="#g56" x="-10"/></g>
<g transform="translate(1657.1 764.8) scale(0.7143) translate(0 -10.5)" stroke="#006464" stroke-width="2.625"><use href="#g65" x="0"/><use href="#g50" x="18"/></g>
<g transform="translate(1635 790.3) scale(0.7143) translate(0 -21)" stroke="#a90000" stroke-width="2.625"><use href="#g55" x="-10"/></g>
<g transform="translate(1657.1 794.8) scale(0.7143) translate(0 -10.5)" stroke="#006464" stroke-width="2.625"><use href="#g65" x="0"/><use href="#g51" x="18"/></g>
<g transform="translate(1635 820.3) scale(0.7143) translate(0 -21)" stroke="#a90000" stroke-width="2.625"><use href="#g54" x="-10"/></g>
<g transform="translate(1657.1 824.8) scale(0.7143) translate(0 -10.5)" stroke="#006464" stroke-width="2.625"><use href="#g65" x="0"/><use href="#g52" x="18"/></g>
<g transform="translate(1635 850.3) scale(0.7143) translate(0 -21)" stroke="#a90000" stroke-width="2.625"><use href="#g53" x="-10"/></g>
<g transform="translate(1657.1 854.8) scale(0.7143) translate(0 -10.5)" stroke="#006464" stroke-width="2.625"><use href="#g65" x="0"/><use href="#g53" x="18"/></g>
<g transform="translate(1635 880.3) scale(0.7143) translate(0 -21)" stroke="#a90000" stroke-width="2.625"><use href="#g52" x="-10"/></g>
<g transform="translate(1657.1 884.8) scale(0.7143) translate(0 -10.5)" stroke="#006464" stroke-width="2.625"><use href="#g65" x="0"/><use href="#g54" x="18"/></g>
<g transform="translate(1635 910.3) scale(0.7143) translate(0 -21)" stroke="#a90000" stroke-width="2.625"><use href="#g51" x="-10"/></g>
<g transform="translate(1657.1 914.8) scale(0.7143) translate(0 -10.5)" stroke="#006464" stroke-width="2.625"><use href="#g65" x="0"/><use href="#g55" x="18"/></g>
<g transform="translate(1635 940.3) scale(0.7143) translate(0 -21)" stroke="#a90000" stroke-width="2.625"><use href="#g50" x="-20"/><use href="#g53" x="0"/></g>
<g transform="translate(1657.1 944.8) scale(0.7143) translate(0 -10.5)" stroke="#006464" stroke-width="2.625"><use href="#g65" x="0"/><use href="#g56" x="18"/></g>
<g transform="translate(1635 970.3) scale(0.7143) translate(0 -21)" stroke="#a90000" stroke-width="2.625"><use href="#g50" x="-20"/><use href="#g52" x="0"/></g>
<g transform="translate(1657.1 974.8) scale(0.7143) translate(0 -10.5)" stroke="#006464" stroke-width="2.625"><use href="#g65" x="0"/><use href="#g57" x="18"/></g>
<g transform="translate(1635 1000.3) scale(0.7143) translate(0 -21)" stroke="#a90000" stroke-width="2.625"><use href="#g50" x="-20"/><use href="#g49" x="0"/></g>
<g transform="translate(1657.1 1004.8) scale(0.7143) translate(0 -10.5)" stroke="#006464" stroke-width="2.625"><use href="#g65" x="0"/><use href="#g49" x="18"/><use href="#g48" x="38"/></g>
<g transform="translate(1635 1030.3) scale(0.7143) translate(0 -21)" stroke="#a90000" stroke-width="2.625"><use href="#g50" x="-20"/><use href="#g51" x="0"/></g>
<g transform="translate(1657.1 1034.8) scale(0.7143) translate(0 -10.5)" stroke="#006464" stroke-width="2.625"><use href="#g65" x="0"/><use href="#g49" x="18"/><use href="#g49" x="38"/></g>
<g transform="translate(1635 1060.3) scale(0.7143) translate(0 -21)" stroke="#a90000" stroke-width="2.625"><use href="#g50" x="-10"/></g>
<g transform="translate(1657.1 1064.8) scale(0.7143) translate(0 -10.5)" stroke="#006464" stroke-width="2.625"><use href="#g65" x="0"/><use href="#g49" x="18"/><use href="#g50" x="38"/></g>
<g transform="translate(1635 1090.3) scale(0.7143) translate(0 -21)" stroke="#a90000" stroke-width="2.625"><use href="#g50" x="-20"/><use href="#g54" x="0"/></g>
<g transform="translate(1657.1 1094.8) scale(0.7143) translate(0 -10.5)" stroke="#006464" stroke-width="2.625"><use href="#g65" x="0"/><use href="#g49" x="18"/><use href="#g51" x="38"/></g>
<g transform="translate(1635 1120.3) scale(0.7143) translate(0 -21)" stroke="#a90000" stroke-width="2.625"><use href="#g49" x="-10"/></g>
<g transform="translate(1657.1 1124.8) scale(0.7143) translate(0 -10.5)" stroke="#006464" stroke-width="2.625"><use href="#g65" x="0"/><use href="#g49" x="18"/><use href="#g52" x="38"/></g>
<g transform="translate(1845 700.3) scale(0.7143) translate(0 -21)" stroke="#a90000" stroke-width="2.625"><use href="#g49" x="-20"/><use href="#g49" x="0"/></g>
<g transform="translate(1824 704.8) scale(0.7143) translate(0 -10.5)" stroke="#006464" stroke-width="2.625"><use href="#g68" x="-41"/><use href="#g48" x="-20"/></g>
<g transform="translate(1845 730.3) scale(0.7143) translate(0 -21)" stroke="#a90000" stroke-width="2.625"><use href="#g49" x="-20"/><use href="#g50" x="0"/></g>
<g transform="translate(1824 734.8) scale(0.7143) translate(0 -10.5)" stroke="#006464" stroke-width="2.625"><use href="#g68" x="-41"/><use href="#g49" x="-20"/></g>
<g transform="translate(1845 760.3) scale(0.7143) translate(0 -21)" stroke="#a90000" stroke-width="2.625"><use href="#g49" x="-20"/><use href="#g51" x="0"/></g>
<g transform="translate(1824 764.8) scale(0.7143) translate(0 -10.5)" stroke="#006464" stroke-width="2.625"><use href="#g68" x="-41"/><use href="#g50" x="-20"/></g>
<g transform="translate(1845 790.3) scale(0.7143) translate(0 -21)" stroke="#a90000" stroke-width="2.625"><use href="#g49" x="-20"/><use href="#g53" x="0"/></g>
<g transform="translate(1824 794.8) scale(0.7143) translate(0 -10.5)" stroke="#006464" stroke-width="2.625"><use href="#g68" x="-41"/><use href="#g51" x="-20"/></g>
<g transform="translate(1845 820.3) scale(0.7143) translate(0 -21)" stroke="#a90000" stroke-width="2.625"><use href="#g49" x="-20"/><use href="#g54" x="0"/></g>
<g transform="translate(1824 824.8) scale(0.7143) translate(0 -10.5)" stroke="#006464" stroke-width="2.625"><use href="#g68" x="-41"/><use href="#g52" x="-20"/></g>
<g transform="translate(1845 850.3) scale(0.7143) translate(0 -21)" stroke="#a90000" stroke-width="2.625"><use href="#g49" x="-20"/><use href="#g55" x="0"/></g>
<g transform="translate(1824 854.8) scale(0.7143) translate(0 -10.5)" stroke="#006464" stroke-width="2.625"><use href="#g68" x="-41"/><use href="#g53" x="-20"/></g>
<g transform="translate(1845 880.3) scale(0.7143) translate(0 -21)" stroke="#a90000" stroke-width="2.625"><use href="#g49" x="-20"/><use href="#g56" x="0"/></g>
<g transform="translate(1824 884.8) scale(0.7143) translate(0 -10.5)" stroke="#006464" stroke-width="2.625"><use href="#g68" x="-41"/><use href="#g54" x="-20"/></g>
<g transform="translate(1845 910.3) scale(0.7143) translate(0 -21)" stroke="#a90000" stroke-width="2.625"><use href="#g49" x="-20"/><use href="#g57" x="0"/></g>
<g transform="translate(1824 914.8) scale(0.7143) translate(0 -10.5)" stroke="#006464" stroke-width="2.625"><use href="#g68" x="-41"/><use href="#g55" x="-20"/></g>
<g transform="translate(1635 1180.3) scale(0.7143) translate(0 -21)" stroke="#a90000" stroke-width="2.625"><use href="#g50" x="-20"/><use href="#g55" x="0"/></g>
<g transform="translate(1657.1 1184.8) scale(0.7143) translate(0 -10.5)" stroke="#006464" stroke-width="2.625"><use href="#g87" x="0"/><use href="#g69" x="24"/><path d="M1.6 -5L41.4 -5"/></g>
<g transform="translate(1635 1210.3) scale(0.7143) translate(0 -21)" stroke="#a90000" stroke-width="2.625"><use href="#g50" x="-20"/><use href="#g50" x="0"/></g>
<g transform="translate(1657.1 1214.8) scale(0.7143) translate(0 -10.5)" stroke="#006464" stroke-width="2.625"><use href="#g79" x="0"/><use href="#g69" x="22"/><path d="M1.6 -5L39.4 -5"/></g>
<g transform="translate(1635 1240.3) scale(0.7143) translate(0 -21)" stroke="#a90000" stroke-width="2.625"><use href="#g50" x="-20"/><use href="#g48" x="0"/></g>
<g transform="translate(1657.1 1244.8) scale(0.7143) translate(0 -10.5)" stroke="#006464" stroke-width="2.625"><use href="#g67" x="0"/><use href="#g83" x="21"/><path d="M1.6 -5L39.4 -5"/></g>
<g transform="translate(1735.3 660) rotate(-90) scale(0.7143) translate(0 -21)" stroke="#a90000" stroke-width="2.625"><use href="#g50" x="-20"/><use href="#g56" x="0"/></g>
<g transform="translate(1739.8 682.1) rotate(-90) scale(0.7143) translate(0 -10.5)" stroke="#006464" stroke-width="2.625"><use href="#g86" x="-60"/><use href="#g67" x="-42"/><use href="#g67" x="-21"/></g>
<g transform="translate(1735.3 1290) rotate(-90) scale(0.7143) translate(0 -21)" stroke="#a90000" stroke-width="2.625"><use href="#g49" x="-20"/><use href="#g52" x="0"/></g>
<g transform="translate(1739.8 1267.9) rotate(-90) scale(0.7143) translate(0 -10.5)" stroke="#006464" stroke-width="2.625"><use href="#g71" x="0"/><use href="#g78" x="21"/><use href="#g68" x="43"/></g>
<g transform="translate(1740 435) scale(0.7143) translate(0 -10.5)" stroke="#006464" stroke-width="2.625"><use href="#g43" x="-32"/><use href="#g53" x="-6"/><use href="#g86" x="14"/></g>
<g transform="translate(1648.5 539.3) scale(0.7143) translate(0 -10.5)" stroke="#006464" stroke-width="2.625"><use href="#g67" x="-41"/><use href="#g51" x="-20"/></g>
<g transform="translate(1648.5 569.3) scale(0.7143) translate(0 -10.5)" stroke="#006464" stroke-width="2.625"><use href="#g48" x="-101"/><use href="#g46" x="-81"/><use href="#g48" x="-71"/><use href="#g49" x="-51"/><use href="#g117" x="-31"/><use href="#g102" x="-12"/></g>
<g transform="translate(1768.5 614.3) scale(0.7143) translate(0 -10.5)" stroke="#006464" stroke-width="2.625"><use href="#g85" x="0"/><use href="#g51" x="22"/></g>
<g transform="translate(1768.5 644.5) scale(0.7143) translate(0 -10.5)" stroke="#006464" stroke-width="2.625"><use href="#g50" x="0"/><use href="#g56" x="20"/><use href="#g67" x="40"/><use href="#g50" x="61"/><use href="#g53" x="81"/><use href="#g54" x="101"/></g>
<g transform="translate(1656.8 656.4) scale(0.7143) translate(0 -10.5)" stroke="#0000c2" stroke-width="2.625"><use href="#g82" x="0"/><use href="#g79" x="21"/><use href="#g77" x="43"/></g>
<g transform="translate(2020.3 412.5) rotate(-90) scale(0.7143) translate(0 -21)" stroke="#a90000" stroke-width="2.625"><use href="#g49" x="-10"/></g>
<g transform="translate(2020.3 547.5) rotate(-90) scale(0.7143) translate(0 -21)" stroke="#a90000" stroke-width="2.625"><use href="#g50" x="-10"/></g>
<g transform="translate(2185.3 532.5) rotate(-90) scale(0.7143) translate(0 -21)" stroke="#a90000" stroke-width="2.625"><use href="#g51" x="-10"/></g>
<g transform="translate(2185.3 667.5) rotate(-90) scale(0.7143) translate(0 -21)" stroke="#a90000" stroke-width="2.625"><use href="#g52" x="-10"/></g>
<g transform="translate(2087 464.4) scale(0.7143) translate(0 -10.5)" stroke="#006464" stroke-width="2.625"><use href="#g85" x="0"/><use href="#g53" x="22"/><use href="#g65" x="42"/></g>
<g transform="translate(2087 494.5) scale(0.7143) translate(0 -10.5)" stroke="#006464" stroke-width="2.625"><use href="#g55" x="0"/><use href="#g52" x="20"/><use href="#g76" x="40"/><use href="#g83" x="57"/><use href="#g48" x="77"/><use href="#g52" x="97"/></g>
<g transform="translate(2129 584.8) scale(0.7143) translate(0 -10.5)" stroke="#006464" stroke-width="2.625"><use href="#g85" x="-63"/><use href="#g53" x="-41"/><use href="#g66" x="-21"/></g>
<g transform="translate(2129 614.5) scale(0.7143) translate(0 -10.5)" stroke="#006464" stroke-width="2.625"><use href="#g55" x="-117"/><use href="#g52" x="-97"/><use href="#g76" x="-77"/><use href="#g83" x="-60"/><use href="#g48" x="-40"/><use href="#g52" x="-20"/></g>
<g transform="translate(2542.5 715.3) scale(0.7143) translate(0 -21)" stroke="#a90000" stroke-width="2.625"><use href="#g49" x="-10"/></g>
<g transform="translate(2577.7 719.8) scale(0.7143) translate(0 -10.5)" stroke="#006464" stroke-width="2.625"><use href="#g68" x="0"/><use href="#g48" x="21"/></g>
<g transform="translate(2542.5 745.3) scale(0.7143) translate(0 -21)" stroke="#a90000" stroke-width="2.625"><use href="#g50" x="-10"/></g>
<g transform="translate(2577.7 749.8) scale(0.7143) translate(0 -10.5)" stroke="#006464" stroke-width="2.625"><use href="#g68" x="0"/><use href="#g49" x="21"/></g>
<g transform="translate(2542.5 775.3) scale(0.7143) translate(0 -21)" stroke="#a90000" stroke-width="2.625"><use href="#g51" x="-10"/></g>
<g transform="translate(2577.7 779.8) scale(0.7143) translate(0 -10.5)" stroke="#006464" stroke-width="2.625"><use href="#g68" x="0"/><use href="#g50" x="21"/></g>
<g transform="translate(2542.5 805.3) scale(0.7143) translate(0 -21)" stroke="#a90000" stroke-width="2.625"><use href="#g52" x="-10"/></g>
<g transform="translate(2577.7 809.8) scale(0.7143) translate(0 -10.5)" stroke="#006464" stroke-width="2.625"><use href="#g68" x="0"/><use href="#g51" x="21"/></g>
<g transform="translate(2542.5 835.3) scale(0.7143) translate(0 -21)" stroke="#a90000" stroke-width="2.625"><use href="#g53" x="-10"/></g>
<g transform="translate(2577.7 839.8) scale(0.7143) translate(0 -10.5)" stroke="#006464" stroke-width="2.625"><use href="#g68" x="0"/><use href="#g52" x="21"/></g>
<g transform="translate(2542.5 865.3) scale(0.7143) translate(0 -21)" stroke="#a90000" stroke-width="2.625"><use href="#g54" x="-10"/></g>
<g transform="translate(2577.7 869.8) scale(0.7143) translate(0 -10.5)" stroke="#006464" stroke-width="2.625"><use href="#g68" x="0"/><use href="#g53" x="21"/></g>
<g transform="translate(2542.5 895.3) scale(0.7143) translate(0 -21)" stroke="#a90000" stroke-width="2.625"><use href="#g55" x="-10"/></g>
<g transform="translate(2577.7 899.8) scale(0.7143) translate(0 -10.5)" stroke="#006464" stroke-width="2.625"><use href="#g68" x="0"/><use href="#g54" x="21"/></g>
<g transform="translate(2542.5 925.3) scale(0.7143) translate(0 -21)" stroke="#a90000" stroke-width="2.625"><use href="#g56" x="-10"/></g>
<g transform="translate(2577.7 929.8) scale(0.7143) translate(0 -10.5)" stroke="#006464" stroke-width="2.625"><use href="#g68" x="0"/><use href="#g55" x="21"/></g>
<g transform="translate(2542.5 985.3) scale(0.7143) translate(0 -21)" stroke="#a90000" stroke-width="2.625"><use href="#g50" x="-20"/><use href="#g56" x="0"/></g>
<g transform="translate(2577.7 989.8) scale(0.7143) translate(0 -10.5)" stroke="#006464" stroke-width="2.625"><use href="#g65" x="0"/><use href="#g48" x="18"/></g>
<g transform="translate(2542.5 1015.3) scale(0.7143) translate(0 -21)" stroke="#a90000" stroke-width="2.625"><use href="#g50" x="-20"/><use href="#g55" x="0"/></g>
<g transform="translate(2577.7 1019.8) scale(0.7143) translate(0 -10.5)" stroke="#006464" stroke-width="2.625"><use href="#g65" x="0"/><use href="#g49" x="18"/></g>
<g transform="translate(2542.5 1045.3) scale(0.7143) translate(0 -21)" stroke="#a90000" stroke-width="2.625"><use href="#g50" x="-20"/><use href="#g54" x="0"/></g>
<g transform="translate(2577.7 1049.8) scale(0.7143) translate(0 -10.5)" stroke="#006464" stroke-width="2.625"><use href="#g65" x="0"/><use href="#g50" x="18"/></g>
<g transform="translate(2542.5 1075.3) scale(0.7143) translate(0 -21)" stroke="#a90000" stroke-width="2.625"><use href="#g49" x="-20"/><use href="#g50" x="0"/></g>
<g transform="translate(2577.7 1079.8) scale(0.7143) translate(0 -10.5)" stroke="#006464" stroke-width="2.625"><use href="#g67" x="0"/><use href="#g83" x="21"/><use href="#g48" x="41"/></g>
<g transform="translate(2542.5 1105.3) scale(0.7143) translate(0 -21)" stroke="#a90000" stroke-width="2.625"><use href="#g49" x="-20"/><use href="#g51" x="0"/></g>
<g transform="translate(2577.7 1109.8) scale(0.7143) translate(0 -10.5)" stroke="#006464" stroke-width="2.625"><use href="#g67" x="0"/><use href="#g83" x="21"/><use href="#g49" x="41"/></g>
<g transform="translate(2542.5 1135.3) scale(0.7143) translate(0 -21)" stroke="#a90000" stroke-width="2.625"><use href="#g49" x="-20"/><use href="#g52" x="0"/></g>
<g transform="translate(2577.7 1139.8) scale(0.7143) translate(0 -10.5)" stroke="#006464" stroke-width="2.625"><use href="#g67" x="0"/><use href="#g83" x="21"/><use href="#g50" x="41"/><path d="M1.6 -5L59.4 -5"/></g>
<g transform="translate(2542.5 1195.3) scale(0.7143) translate(0 -21)" stroke="#a90000" stroke-width="2.625"><use href="#g49" x="-20"/><use href="#g54" x="0"/></g>
<g transform="translate(2577.7 1199.8) scale(0.7143) translate(0 -10.5)" stroke="#006464" stroke-width="2.625"><use href="#g88" x="0"/><use href="#g73" x="20"/><use href="#g78" x="28"/></g>
<g transform="translate(2542.5 1285.3) scale(0.7143) translate(0 -21)" stroke="#a90000" stroke-width="2.625"><use href="#g49" x="-20"/><use href="#g55" x="0"/></g>
<g transform="translate(2577.7 1289.8) scale(0.7143) translate(0 -10.5)" stroke="#006464" stroke-width="2.625"><use href="#g88" x="0"/><use href="#g79" x="20"/><use href="#g85" x="42"/><use href="#g84" x="64"/></g>
<g transform="translate(2542.5 1375.3) scale(0.7143) translate(0 -21)" stroke="#a90000" stroke-width="2.625"><use href="#g49" x="-20"/><use href="#g56" x="0"/></g>
<g transform="translate(2577.7 1379.8) scale(0.7143) translate(0 -10.5)" stroke="#006464" stroke-width="2.625"><use href="#g87" x="0"/><use href="#g82" x="24"/><path d="M1.6 -5L43.4 -5"/></g>
<g transform="translate(2542.5 1405.3) scale(0.7143) translate(0 -21)" stroke="#a90000" stroke-width="2.625"><use href="#g49" x="-20"/><use href="#g57" x="0"/></g>
<g transform="translate(2577.7 1409.8) scale(0.7143) translate(0 -10.5)" stroke="#006464" stroke-width="2.625"><use href="#g87" x="0"/><use href="#g82" x="24"/></g>
<g transform="translate(2542.5 1435.3) scale(0.7143) translate(0 -21)" stroke="#a90000" stroke-width="2.625"><use href="#g50" x="-20"/><use href="#g50" x="0"/></g>
<g transform="translate(2577.7 1439.8) scale(0.7143) translate(0 -10.5)" stroke="#006464" stroke-width="2.625"><use href="#g82" x="0"/><use href="#g68" x="21"/></g>
<g transform="translate(2542.5 1465.3) scale(0.7143) translate(0 -21)" stroke="#a90000" stroke-width="2.625"><use href="#g50" x="-20"/><use href="#g49" x="0"/></g>
<g transform="translate(2577.7 1469.8) scale(0.7143) translate(0 -10.5)" stroke="#006464" stroke-width="2.625"><use href="#g82" x="0"/><use href="#g68" x="21"/><path d="M1.6 -5L40.4 -5"/></g>
<g transform="translate(2542.5 1495.3) scale(0.7143) translate(0 -21)" stroke="#a90000" stroke-width="2.625"><use href="#g50" x="-20"/><use href="#g53" x="0"/></g>
<g transform="translate(2577.7 1499.8) scale(0.7143) translate(0 -10.5)" stroke="#006464" stroke-width="2.625"><use href="#g65" x="0"/><use href="#g68" x="18"/><use href="#g83" x="39"/><path d="M1.6 -5L57.4 -5"/></g>
<g transform="translate(2542.5 1525.3) scale(0.7143) translate(0 -21)" stroke="#a90000" stroke-width="2.625"><use href="#g51" x="-20"/><use href="#g48" x="0"/></g>
<g transform="translate(2577.7 1529.8) scale(0.7143) translate(0 -10.5)" stroke="#006464" stroke-width="2.625"><use href="#g73" x="0"/><use href="#g78" x="8"/><use href="#g84" x="30"/><use href="#g82" x="46"/></g>
<g transform="translate(2542.5 1555.3) scale(0.7143) translate(0 -21)" stroke="#a90000" stroke-width="2.625"><use href="#g51" x="-20"/><use href="#g53" x="0"/></g>
<g transform="translate(2577.7 1559.8) scale(0.7143) translate(0 -10.5)" stroke="#006464" stroke-width="2.625"><use href="#g77" x="0"/><use href="#g82" x="24"/></g>
<g transform="translate(3097.5 775.3) scale(0.7143) translate(0 -21)" stroke="#a90000" stroke-width="2.625"><use href="#g51" x="-20"/><use href="#g57" x="0"/></g>
<g transform="translate(3062.4 779.8) scale(0.7143) translate(0 -10.5)" stroke="#006464" stroke-width="2.625"><use href="#g82" x="-29"/><use href="#g73" x="-8"/><path d="M-27.4 -5L-1.6 -5"/></g>
<g transform="translate(3097.5 805.3) scale(0.7143) translate(0 -21)" stroke="#a90000" stroke-width="2.625"><use href="#g51" x="-20"/><use href="#g56" x="0"/></g>
<g transform="translate(3062.4 809.8) scale(0.7143) translate(0 -10.5)" stroke="#006464" stroke-width="2.625"><use href="#g68" x="-63"/><use href="#g67" x="-42"/><use href="#g68" x="-21"/><path d="M-61.4 -5L-1.6 -5"/></g>
<g transform="translate(3097.5 835.3) scale(0.7143) translate(0 -21)" stroke="#a90000" stroke-width="2.625"><use href="#g51" x="-20"/><use href="#g55" x="0"/></g>
<g transform="translate(3062.4 839.8) scale(0.7143) translate(0 -10.5)" stroke="#006464" stroke-width="2.625"><use href="#g68" x="-62"/><use href="#g83" x="-41"/><use href="#g82" x="-21"/><path d="M-60.4 -5L-1.6 -5"/></g>
<g transform="translate(3097.5 865.3) scale(0.7143) translate(0 -21)" stroke="#a90000" stroke-width="2.625"><use href="#g51" x="-20"/><use href="#g54" x="0"/></g>
<g transform="translate(3062.4 869.8) scale(0.7143) translate(0 -10.5)" stroke="#006464" stroke-width="2.625"><use href="#g67" x="-57"/><use href="#g84" x="-36"/><use href="#g83" x="-20"/><path d="M-55.4 -5L-1.6 -5"/></g>
<g transform="translate(3097.5 955.3) scale(0.7143) translate(0 -21)" stroke="#a90000" stroke-width="2.625"><use href="#g51" x="-20"/><use href="#g52" x="0"/></g>
<g transform="translate(3062.4 959.8) scale(0.7143) translate(0 -10.5)" stroke="#006464" stroke-width="2.625"><use href="#g79" x="-80"/><use href="#g85" x="-58"/><use href="#g84" x="-36"/><use href="#g49" x="-20"/><path d="M-78.4 -5L-1.6 -5"/></g>
<g transform="translate(3097.5 985.3) scale(0.7143) translate(0 -21)" stroke="#a90000" stroke-width="2.625"><use href="#g51" x="-20"/><use href="#g51" x="0"/></g>
<g transform="translate(3062.4 989.8) scale(0.7143) translate(0 -10.5)" stroke="#006464" stroke-width="2.625"><use href="#g68" x="-58"/><use href="#g84" x="-37"/><use href="#g82" x="-21"/><path d="M-56.4 -5L-1.6 -5"/></g>
<g transform="translate(3097.5 1015.3) scale(0.7143) translate(0 -21)" stroke="#a90000" stroke-width="2.625"><use href="#g51" x="-20"/><use href="#g50" x="0"/></g>
<g transform="translate(3062.4 1019.8) scale(0.7143) translate(0 -10.5)" stroke="#006464" stroke-width="2.625"><use href="#g82" x="-57"/><use href="#g84" x="-36"/><use href="#g83" x="-20"/><path d="M-55.4 -5L-1.6 -5"/></g>
<g transform="translate(3097.5 1045.3) scale(0.7143) translate(0 -21)" stroke="#a90000" stroke-width="2.625"><use href="#g51" x="-20"/><use href="#g49" x="0"/></g>
<g transform="translate(3062.4 1049.8) scale(0.7143) translate(0 -10.5)" stroke="#006464" stroke-width="2.625"><use href="#g79" x="-80"/><use href="#g85" x="-58"/><use href="#g84" x="-36"/><use href="#g50" x="-20"/><path d="M-78.4 -5L-1.6 -5"/></g>
<g transform="translate(3097.5 1195.3) scale(0.7143) translate(0 -21)" stroke="#a90000" stroke-width="2.625"><use href="#g49" x="-20"/><use href="#g48" x="0"/></g>
<g transform="translate(3062.4 1199.8) scale(0.7143) translate(0 -10.5)" stroke="#006464" stroke-width="2.625"><use href="#g83" x="-50"/><use href="#g73" x="-30"/><use href="#g78" x="-22"/></g>
<g transform="translate(3097.5 1225.3) scale(0.7143) translate(0 -21)" stroke="#a90000" stroke-width="2.625"><use href="#g49" x="-20"/><use href="#g49" x="0"/></g>
<g transform="translate(3062.4 1229.8) scale(0.7143) translate(0 -10.5)" stroke="#006464" stroke-width="2.625"><use href="#g83" x="-80"/><use href="#g79" x="-60"/><use href="#g85" x="-38"/><use href="#g84" x="-16"/></g>
<g transform="translate(3097.5 1315.3) scale(0.7143) translate(0 -21)" stroke="#a90000" stroke-width="2.625"><use href="#g50" x="-20"/><use href="#g57" x="0"/></g>
<g transform="translate(3062.4 1319.8) scale(0.7143) translate(0 -10.5)" stroke="#006464" stroke-width="2.625"><use href="#g82" x="-101"/><use href="#g88" x="-80"/><use href="#g82" x="-60"/><use href="#g68" x="-39"/><use href="#g89" x="-18"/><path d="M-99.4 -5L-1.6 -5"/></g>
<g transform="translate(3097.5 1345.3) scale(0.7143) translate(0 -21)" stroke="#a90000" stroke-width="2.625"><use href="#g50" x="-20"/><use href="#g52" x="0"/></g>
<g transform="translate(3062.4 1349.8) scale(0.7143) translate(0 -10.5)" stroke="#006464" stroke-width="2.625"><use href="#g84" x="-96"/><use href="#g88" x="-80"/><use href="#g82" x="-60"/><use href="#g68" x="-39"/><use href="#g89" x="-18"/><path d="M-94.4 -5L-1.6 -5"/></g>
<g transform="translate(3097.5 1375.3) scale(0.7143) translate(0 -21)" stroke="#a90000" stroke-width="2.625"><use href="#g50" x="-20"/><use href="#g51" x="0"/></g>
<g transform="translate(3062.4 1379.8) scale(0.7143) translate(0 -10.5)" stroke="#006464" stroke-width="2.625"><use href="#g68" x="-70"/><use href="#g68" x="-49"/><use href="#g73" x="-28"/><use href="#g83" x="-20"/></g>
<g transform="translate(3097.5 1495.3) scale(0.7143) translate(0 -21)" stroke="#a90000" stroke-width="2.625"><use href="#g49" x="-20"/><use href="#g53" x="0"/></g>
<g transform="translate(3062.4 1499.8) scale(0.7143) translate(0 -10.5)" stroke="#006464" stroke-width="2.625"><use href="#g66" x="-142"/><use href="#g65" x="-121"/><use href="#g85" x="-103"/><use href="#g68" x="-81"/><use href="#g79" x="-60"/><use href="#g85" x="-38"/><use href="#g84" x="-16"/><path d="M-140.4 -5L-1.6 -5"/></g>
<g transform="translate(3097.5 1555.3) scale(0.7143) translate(0 -21)" stroke="#a90000" stroke-width="2.625"><use href="#g57" x="-10"/></g>
<g transform="translate(3062.4 1559.8) scale(0.7143) translate(0 -10.5)" stroke="#006464" stroke-width="2.625"><use href="#g82" x="-80"/><use href="#g67" x="-59"/><use href="#g76" x="-38"/><use href="#g75" x="-21"/></g>
<g transform="translate(2815.3 652.5) rotate(-90) scale(0.7143) translate(0 -21)" stroke="#a90000" stroke-width="2.625"><use href="#g52" x="-20"/><use href="#g48" x="0"/></g>
<g transform="translate(2819.8 687.7) rotate(-90) scale(0.7143) translate(0 -10.5)" stroke="#006464" stroke-width="2.625"><use href="#g86" x="-60"/><use href="#g67" x="-42"/><use href="#g67" x="-21"/></g>
<g transform="translate(2815.3 1627.5) rotate(-90) scale(0.7143) translate(0 -21)" stroke="#a90000" stroke-width="2.625"><use href="#g50" x="-20"/><use href="#g48" x="0"/></g>
<g transform="translate(2819.8 1592.3) rotate(-90) scale(0.7143) translate(0 -10.5)" stroke="#006464" stroke-width="2.625"><use href="#g71" x="0"/><use href="#g78" x="21"/><use href="#g68" x="43"/></g>
<g transform="translate(2820 420) scale(0.7143) translate(0 -10.5)" stroke="#006464" stroke-width="2.625"><use href="#g43" x="-32"/><use href="#g53" x="-6"/><use href="#g86" x="14"/></g>
<g transform="translate(2728.5 524.3) scale(0.7143) translate(0 -10.5)" stroke="#006464" stroke-width="2.625"><use href="#g67" x="-41"/><use href="#g54" x="-20"/></g>
<g transform="translate(2728.5 554.3) scale(0.7143) translate(0 -10.5)" stroke="#006464" stroke-width="2.625"><use href="#g48" x="-101"/><use href="#g46" x="-81"/><use href="#g48" x="-71"/><use href="#g49" x="-51"/><use href="#g117" x="-31"/><use href="#g102" x="-12"/></g>
<g transform="translate(2848 614.3) scale(0.7143) translate(0 -10.5)" stroke="#006464" stroke-width="2.625"><use href="#g85" x="0"/><use href="#g52" x="22"/></g>
<g transform="translate(2848 644.5) scale(0.7143) translate(0 -10.5)" stroke="#006464" stroke-width="2.625"><use href="#g49" x="0"/><use href="#g54" x="20"/><use href="#g53" x="40"/><use href="#g53" x="60"/><use href="#g48" x="80"/></g>
<g transform="translate(2568.2 656.4) scale(0.7143) translate(0 -10.5)" stroke="#0000c2" stroke-width="2.625"><use href="#g85" x="0"/><use href="#g65" x="22"/><use href="#g82" x="40"/><use href="#g84" x="61"/></g>
<g transform="translate(2879.5 1754.5) scale(0.7143) translate(0 -10.5)" stroke="#006464" stroke-width="2.625"><use href="#g88" x="-40"/><use href="#g50" x="-20"/></g>
<g transform="translate(2879.5 1784.5) scale(0.7143) translate(0 -10.5)" stroke="#006464" stroke-width="2.625"><use href="#g49" x="-189"/><use href="#g46" x="-169"/><use href="#g56" x="-159"/><use href="#g52" x="-139"/><use href="#g51" x="-119"/><use href="#g50" x="-99"/><use href="#g77" x="-63"/><use href="#g72" x="-39"/><use href="#g122" x="-17"/></g>
<g transform="translate(3016 1754.5) scale(0.7143) translate(0 -10.5)" stroke="#006464" stroke-width="2.625"><use href="#g82" x="0"/><use href="#g49" x="21"/></g>
<g transform="translate(3016 1784.5) scale(0.7143) translate(0 -10.5)" stroke="#006464" stroke-width="2.625"><use href="#g49" x="0"/><use href="#g77" x="20"/></g>
<g transform="translate(2819.3 1846.5) rotate(-90) scale(0.7143) translate(0 -10.5)" stroke="#006464" stroke-width="2.625"><use href="#g49" x="-71"/><use href="#g46" x="-51"/><use href="#g53" x="-41"/><use href="#g75" x="-21"/></g>
<g transform="translate(2849.5 1846.5) rotate(-90) scale(0.7143) translate(0 -10.5)" stroke="#006464" stroke-width="2.625"><use href="#g82" x="-41"/><use href="#g50" x="-20"/></g>
<g transform="translate(2953.5 1859.3) scale(0.7143) translate(0 -10.5)" stroke="#006464" stroke-width="2.625"><use href="#g67" x="-41"/><use href="#g57" x="-20"/></g>
<g transform="translate(2953.5 1889.3) scale(0.7143) translate(0 -10.5)" stroke="#006464" stroke-width="2.625"><use href="#g53" x="-77"/><use href="#g48" x="-57"/><use href="#g112" x="-37"/><use href="#g70" x="-18"/></g>
<g transform="translate(3088.5 1859.3) scale(0.7143) translate(0 -10.5)" stroke="#006464" stroke-width="2.625"><use href="#g67" x="-41"/><use href="#g56" x="-20"/></g>
<g transform="translate(3088.5 1889.3) scale(0.7143) translate(0 -10.5)" stroke="#006464" stroke-width="2.625"><use href="#g50" x="-77"/><use href="#g48" x="-57"/><use href="#g112" x="-37"/><use href="#g70" x="-18"/></g>
<g transform="translate(232.5 1720.3) scale(0.7143) translate(0 -21)" stroke="#a90000" stroke-width="2.625"><use href="#g49" x="-10"/></g>
<g transform="translate(232.5 1750.3) scale(0.7143) translate(0 -21)" stroke="#a90000" stroke-width="2.625"><use href="#g50" x="-10"/></g>
<g transform="translate(255 1665) scale(0.7143) translate(0 -10.5)" stroke="#006464" stroke-width="2.625"><use href="#g43" x="-32"/><use href="#g53" x="-6"/><use href="#g86" x="14"/></g>
<g transform="translate(202.5 1664.5) scale(0.7143) translate(0 -10.5)" stroke="#006464" stroke-width="2.625"><use href="#g74" x="-18"/><use href="#g49" x="-2"/></g>
<g transform="translate(203 1694.5) scale(0.7143) translate(0 -10.5)" stroke="#006464" stroke-width="2.625"><use href="#g80" x="-33"/><use href="#g87" x="-12"/><use href="#g82" x="12"/></g>
<g transform="translate(340.3 1995) rotate(-90) scale(0.7143) translate(0 -21)" stroke="#a90000" stroke-width="2.625"><use href="#g49" x="-20"/><use href="#g52" x="0"/></g>
<g transform="translate(344.8 2032.1) rotate(-90) scale(0.7143) translate(0 -10.5)" stroke="#006464" stroke-width="2.625"><use href="#g86" x="-60"/><use href="#g67" x="-42"/><use href="#g67" x="-21"/></g>
<g transform="translate(340.3 2235) rotate(-90) scale(0.7143) translate(0 -21)" stroke="#a90000" stroke-width="2.625"><use href="#g55" x="-10"/></g>
<g transform="translate(344.8 2197.9) rotate(-90) scale(0.7143) translate(0 -10.5)" stroke="#006464" stroke-width="2.625"><use href="#g71" x="0"/><use href="#g78" x="21"/><use href="#g68" x="43"/></g>
<g transform="translate(345 1800) scale(0.7143) translate(0 -10.5)" stroke="#006464" stroke-width="2.625"><use href="#g43" x="-32"/><use href="#g53" x="-6"/><use href="#g86" x="14"/></g>
<g transform="translate(253.5 1904.3) scale(0.7143) translate(0 -10.5)" stroke="#006464" stroke-width="2.625"><use href="#g67" x="-41"/><use href="#g55" x="-20"/></g>
<g transform="translate(253.5 1934.3) scale(0.7143) translate(0 -10.5)" stroke="#006464" stroke-width="2.625"><use href="#g48" x="-101"/><use href="#g46" x="-81"/><use href="#g48" x="-71"/><use href="#g49" x="-51"/><use href="#g117" x="-31"/><use href="#g102" x="-12"/></g>
<g transform="translate(422 2099) scale(0.7143) translate(0 -10.5)" stroke="#006464" stroke-width="2.625"><use href="#g85" x="0"/><use href="#g53" x="22"/><use href="#g71" x="42"/></g>
<g transform="translate(422 2129) scale(0.7143) translate(0 -10.5)" stroke="#006464" stroke-width="2.625"><use href="#g55" x="0"/><use href="#g52" x="20"/><use href="#g76" x="40"/><use href="#g83" x="57"/><use href="#g48" x="77"/><use href="#g52" x="97"/></g></g>
</g></svg></body></html>
